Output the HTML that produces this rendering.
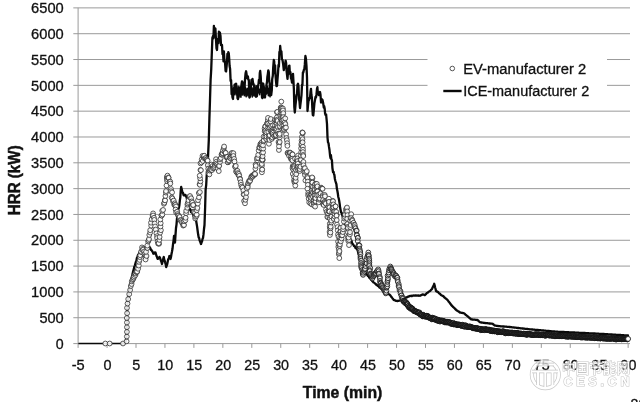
<!DOCTYPE html>
<html lang="en"><head><meta charset="utf-8"><title>HRR vs Time</title>
<style>html,body{margin:0;padding:0;background:#fff}body{width:640px;height:402px;overflow:hidden}svg{display:block;filter:blur(.4px)}text{font-family:"Liberation Sans","Noto Sans CJK SC",sans-serif;fill:#111}.t{stroke:#111;stroke-width:.3}.b{stroke:#111;stroke-width:.45}.t{font-size:14.05px}.b{font-size:15.8px;font-weight:bold}.g{stroke:#9a9a9a;stroke-width:1;fill:none}.ev circle{fill:#fff;fill-opacity:.88;stroke:#303030;stroke-width:.8}.ev .m circle{fill-opacity:.5;stroke:#222;stroke-width:.9}.ev .d circle{fill-opacity:.2;stroke:#151515;stroke-width:.95}</style></head><body>
<svg width="640" height="402" viewBox="0 0 640 402">
<rect width="640" height="402" fill="#fff"/>
<path class="g" d="M73.3 317.73H630M73.3 291.91H630M73.3 266.09H630M73.3 240.27H630M73.3 214.45H630M73.3 188.63H630M73.3 162.81H630M73.3 136.99H630M73.3 111.17H630M73.3 85.35H630M73.3 59.53H630M73.3 33.71H630M73.3 7.89H630"/>
<path class="g" d="M78.1 7.8V343.8M73.3 343.6H630M78.10 343.6v4.3M107.05 343.6v4.3M136.00 343.6v4.3M164.95 343.6v4.3M193.90 343.6v4.3M222.85 343.6v4.3M251.80 343.6v4.3M280.75 343.6v4.3M309.70 343.6v4.3M338.65 343.6v4.3M367.60 343.6v4.3M396.55 343.6v4.3M425.50 343.6v4.3M454.45 343.6v4.3M483.40 343.6v4.3M512.35 343.6v4.3M541.30 343.6v4.3M570.25 343.6v4.3M599.20 343.6v4.3M628.15 343.6v4.3"/>
<rect x="427.5" y="52" width="179.5" height="50" fill="#fff"/>
<text class="t" x="63.7" y="348.70" text-anchor="end" textLength="7.9" lengthAdjust="spacingAndGlyphs">0</text>
<text class="t" x="63.7" y="322.88" text-anchor="end" textLength="24.3" lengthAdjust="spacingAndGlyphs">500</text>
<text class="t" x="63.7" y="297.06" text-anchor="end" textLength="32.6" lengthAdjust="spacingAndGlyphs">1000</text>
<text class="t" x="63.7" y="271.24" text-anchor="end" textLength="32.6" lengthAdjust="spacingAndGlyphs">1500</text>
<text class="t" x="63.7" y="245.42" text-anchor="end" textLength="32.6" lengthAdjust="spacingAndGlyphs">2000</text>
<text class="t" x="63.7" y="219.60" text-anchor="end" textLength="32.6" lengthAdjust="spacingAndGlyphs">2500</text>
<text class="t" x="63.7" y="193.78" text-anchor="end" textLength="32.6" lengthAdjust="spacingAndGlyphs">3000</text>
<text class="t" x="63.7" y="167.96" text-anchor="end" textLength="32.6" lengthAdjust="spacingAndGlyphs">3500</text>
<text class="t" x="63.7" y="142.14" text-anchor="end" textLength="32.6" lengthAdjust="spacingAndGlyphs">4000</text>
<text class="t" x="63.7" y="116.32" text-anchor="end" textLength="32.6" lengthAdjust="spacingAndGlyphs">4500</text>
<text class="t" x="63.7" y="90.50" text-anchor="end" textLength="32.6" lengthAdjust="spacingAndGlyphs">5000</text>
<text class="t" x="63.7" y="64.68" text-anchor="end" textLength="32.6" lengthAdjust="spacingAndGlyphs">5500</text>
<text class="t" x="63.7" y="38.86" text-anchor="end" textLength="32.6" lengthAdjust="spacingAndGlyphs">6000</text>
<text class="t" x="63.7" y="13.04" text-anchor="end" textLength="32.6" lengthAdjust="spacingAndGlyphs">6500</text>
<text class="t" x="78.15" y="370" text-anchor="middle" textLength="13.0" lengthAdjust="spacingAndGlyphs">-5</text>
<text class="t" x="107.40" y="370" text-anchor="middle" textLength="8.0" lengthAdjust="spacingAndGlyphs">0</text>
<text class="t" x="136.35" y="370" text-anchor="middle" textLength="8.0" lengthAdjust="spacingAndGlyphs">5</text>
<text class="t" x="165.30" y="370" text-anchor="middle" textLength="15.9" lengthAdjust="spacingAndGlyphs">10</text>
<text class="t" x="194.25" y="370" text-anchor="middle" textLength="15.9" lengthAdjust="spacingAndGlyphs">15</text>
<text class="t" x="223.20" y="370" text-anchor="middle" textLength="15.9" lengthAdjust="spacingAndGlyphs">20</text>
<text class="t" x="252.15" y="370" text-anchor="middle" textLength="15.9" lengthAdjust="spacingAndGlyphs">25</text>
<text class="t" x="281.10" y="370" text-anchor="middle" textLength="15.9" lengthAdjust="spacingAndGlyphs">30</text>
<text class="t" x="310.05" y="370" text-anchor="middle" textLength="15.9" lengthAdjust="spacingAndGlyphs">35</text>
<text class="t" x="339.00" y="370" text-anchor="middle" textLength="15.9" lengthAdjust="spacingAndGlyphs">40</text>
<text class="t" x="367.95" y="370" text-anchor="middle" textLength="15.9" lengthAdjust="spacingAndGlyphs">45</text>
<text class="t" x="396.90" y="370" text-anchor="middle" textLength="15.9" lengthAdjust="spacingAndGlyphs">50</text>
<text class="t" x="425.85" y="370" text-anchor="middle" textLength="15.9" lengthAdjust="spacingAndGlyphs">55</text>
<text class="t" x="454.80" y="370" text-anchor="middle" textLength="15.9" lengthAdjust="spacingAndGlyphs">60</text>
<text class="t" x="483.75" y="370" text-anchor="middle" textLength="15.9" lengthAdjust="spacingAndGlyphs">65</text>
<text class="t" x="512.70" y="370" text-anchor="middle" textLength="15.9" lengthAdjust="spacingAndGlyphs">70</text>
<text class="t" x="541.65" y="370" text-anchor="middle" textLength="15.9" lengthAdjust="spacingAndGlyphs">75</text>
<text class="t" x="570.60" y="370" text-anchor="middle" textLength="15.9" lengthAdjust="spacingAndGlyphs">80</text>
<text class="t" x="599.55" y="370" text-anchor="middle" textLength="15.9" lengthAdjust="spacingAndGlyphs">85</text>
<text class="t" x="628.50" y="370" text-anchor="middle" textLength="15.9" lengthAdjust="spacingAndGlyphs">90</text>
<text class="b" x="342.6" y="398.2" text-anchor="middle" textLength="79.5" lengthAdjust="spacingAndGlyphs">Time (min)</text>
<text class="b" transform="translate(19.5 180.3) rotate(-90)" text-anchor="middle" textLength="70" lengthAdjust="spacingAndGlyphs">HRR (kW)</text>
<path d="M122.0 343.6 122.5 343.5 122.9 343.4 123.4 343.3 123.9 343.3 124.4 343.2 124.8 343.1 125.3 343.0 125.9 340.5 126.5 338.0 126.9 320.0 127.3 305.0 127.7 302.0 128.2 298.9 128.6 296.0 129.1 293.0 129.6 290.0 130.1 286.4 130.7 283.4 131.2 280.0 131.7 277.9 132.1 276.0 132.6 274.1 133.0 271.8 133.5 270.0 134.0 268.4 134.4 266.3 134.9 265.6 135.3 263.7 135.8 262.0 136.4 260.8 136.9 258.0 137.4 256.9 138.0 255.0 138.5 254.7 139.0 253.6 139.5 252.7 140.0 252.2 140.5 251.6 141.0 251.5 141.5 251.6 142.0 250.4 142.5 251.2 143.0 250.4 143.5 250.3 144.0 250.1 144.5 249.8 145.0 249.5 145.5 249.5 146.0 249.2 146.5 248.7 147.0 249.0 147.5 248.1 148.0 248.6 148.5 248.5 149.0 248.3 149.5 247.4 150.0 247.5 150.5 248.8 151.0 249.9 151.5 250.1 152.0 251.0 152.4 251.4 152.9 252.4 153.3 253.6 153.8 253.8 154.2 253.0 154.6 252.5 155.1 252.8 155.5 252.5 156.0 254.3 156.5 256.0 157.0 257.0 157.5 258.8 158.0 258.9 158.5 257.6 159.0 257.7 159.5 257.0 160.0 257.9 160.5 259.3 161.0 260.8 161.5 262.1 162.0 264.0 162.4 262.3 162.9 260.6 163.3 258.4 163.8 257.0 164.2 259.5 164.8 260.9 165.2 262.6 165.8 264.7 166.2 267.0 166.8 265.4 167.3 263.8 167.8 261.1 168.3 259.1 168.9 258.2 169.4 256.0 169.9 257.2 170.5 259.0 171.0 257.0 171.5 253.9 172.0 251.5 172.5 248.8 173.0 244.3 173.5 240.8 174.0 236.0 174.5 239.2 175.0 242.5 175.5 234.9 176.0 228.0 176.5 224.6 177.0 218.4 177.5 215.0 178.0 213.1 178.4 208.8 178.9 207.9 179.4 205.0 179.9 200.2 180.3 197.3 180.8 189.9 181.2 187.0 181.9 190.0 182.5 192.5 183.0 192.7 183.5 195.0 184.0 195.5 184.5 195.0 185.0 195.0 185.5 195.0 185.9 196.0 186.4 197.0 186.9 198.8 187.4 200.5 187.9 201.9 188.4 203.8 188.9 207.5 189.4 208.8 189.9 209.8 190.4 209.5 191.0 212.1 191.5 210.6 192.0 212.0 192.5 213.2 193.0 213.1 193.5 216.0 194.0 217.0 194.5 216.4 195.0 218.6 195.5 219.8 196.0 220.0 196.5 223.0 197.1 226.6 197.6 230.5 198.2 234.8 198.7 237.5 199.2 238.2 199.6 240.4 200.1 241.6 200.5 242.6 201.0 244.0 201.5 242.6 202.0 241.6 202.5 239.0 203.0 238.0 203.5 234.4 204.0 229.0 204.5 225.0 205.1 208.3 205.6 190.0 206.2 184.8 206.7 175.3 207.2 170.0 207.8 162.0 208.2 153.0 208.8 140.0 209.4 118.4 210.0 100.0 210.6 79.9 211.2 70.0 211.9 51.0 212.4 37.9 213.0 36.0 213.4 38.3 213.9 25.9 214.3 36.6 214.8 28.2 215.4 28.7 216.0 40.0 216.5 48.4 217.0 50.0 217.5 41.1 218.0 38.8 218.4 43.1 218.9 31.7 219.4 34.0 219.9 32.6 220.5 36.0 221.0 45.2 221.5 45.1 222.0 45.0 222.5 54.1 223.0 52.5 223.5 61.4 223.9 51.4 224.4 60.0 225.0 62.2 225.6 71.0 226.1 71.5 226.5 67.4 227.0 62.0 227.4 53.9 227.9 57.8 228.3 52.1 228.8 53.5 229.2 58.9 229.6 66.0 230.1 68.9 230.6 81.0 231.1 80.0 231.6 94.3 232.0 91.5 232.5 97.5 233.0 99.0 233.5 89.2 234.1 90.6 234.6 84.7 235.1 85.5 235.6 84.0 236.1 83.6 236.6 91.9 237.0 89.5 237.5 98.3 238.0 99.0 238.5 96.7 239.0 90.5 239.6 90.6 240.1 89.8 240.6 87.5 241.1 89.1 241.6 83.9 242.0 81.4 242.5 88.6 243.0 82.5 243.5 89.4 243.9 90.6 244.4 91.0 245.0 79.5 245.6 73.0 246.1 71.3 246.5 73.6 247.0 78.0 247.4 76.3 247.9 76.3 248.3 79.6 248.8 80.0 249.4 97.5 249.9 93.5 250.4 91.8 250.9 86.7 251.5 79.8 252.0 83.9 252.5 78.8 253.0 82.8 253.5 83.9 254.0 86.2 254.5 88.0 255.0 91.6 255.5 96.1 256.0 96.6 256.5 96.6 257.0 96.0 257.5 91.0 258.0 86.1 258.5 84.0 258.9 79.9 259.4 82.9 259.8 72.9 260.2 71.0 260.7 76.3 261.1 83.3 261.6 87.2 262.0 97.5 262.4 98.0 262.9 83.4 263.3 84.0 263.9 89.6 264.4 97.3 265.0 97.5 265.5 91.2 266.0 90.9 266.5 84.6 267.0 82.0 267.4 76.6 267.9 73.6 268.3 70.3 268.8 72.0 269.2 80.5 269.8 84.3 270.2 90.1 270.8 85.8 271.2 95.0 271.8 90.0 272.2 79.1 272.8 75.7 273.2 67.6 273.8 60.0 274.2 61.4 274.6 73.3 275.1 65.3 275.5 75.0 276.0 81.4 276.5 86.2 277.0 86.0 277.5 79.1 278.0 73.1 278.5 65.0 278.9 66.6 279.4 52.0 279.8 52.5 280.2 46.0 280.8 52.9 281.4 51.4 281.9 59.3 282.5 60.0 283.1 63.7 283.8 70.0 284.2 68.0 284.7 66.7 285.1 65.2 285.6 60.6 286.1 62.9 286.6 71.2 287.0 74.7 287.5 78.8 288.0 72.3 288.4 73.5 288.9 66.1 289.4 65.6 289.9 73.9 290.4 72.0 291.0 78.3 291.5 79.4 292.0 82.5 292.5 77.9 293.0 73.8 293.4 80.4 293.9 89.5 294.3 106.8 294.8 112.5 295.2 108.4 295.6 104.0 296.1 99.6 296.5 95.0 297.0 94.4 297.5 84.8 298.0 83.8 298.5 86.4 299.0 99.0 299.5 101.6 300.0 108.0 300.5 103.6 301.0 99.7 301.5 94.8 302.0 85.0 302.4 85.3 302.9 72.3 303.3 72.4 303.8 70.0 304.3 69.4 304.8 64.7 305.4 56.0 305.9 58.4 306.5 66.2 307.0 77.5 307.5 111.0 308.0 105.5 308.5 100.9 309.0 99.9 309.5 98.0 310.0 97.9 310.5 92.0 311.0 88.8 311.4 94.8 311.9 98.0 312.3 107.5 312.8 115.0 313.3 115.5 313.9 109.2 314.4 103.3 315.0 100.0 315.5 97.0 316.0 97.3 316.5 94.2 317.0 88.8 317.4 87.2 317.9 93.7 318.3 92.1 318.8 95.0 319.4 93.7 320.0 92.0 320.5 94.7 321.0 102.5 321.5 100.5 322.0 99.3 322.5 100.0 323.1 102.7 323.8 107.5 324.2 106.2 324.7 108.7 325.1 113.7 325.6 115.0 326.1 114.4 326.5 118.5 327.0 124.0 327.5 137.5 328.0 142.4 328.5 143.1 329.0 146.9 329.5 150.0 330.0 155.0 330.5 158.1 330.9 155.2 331.4 159.5 331.9 160.0 332.4 167.8 333.0 172.0 333.5 171.6 333.9 173.6 334.4 175.0 334.9 179.0 335.4 181.0 335.9 182.7 336.4 184.2 336.9 188.8 337.4 191.0 337.8 193.3 338.3 197.0 338.8 198.8 339.2 200.9 339.7 204.1 340.1 207.6 340.6 210.0 341.1 212.4 341.6 212.6 342.0 214.2 342.5 216.2 343.0 217.5 343.5 220.1 344.0 219.9 344.5 223.4 345.0 224.3 345.5 225.1 346.0 227.0 346.5 228.7 347.0 229.4 347.5 230.3 348.0 233.0 348.5 233.6 349.0 235.3 349.5 236.6 350.0 238.0 350.5 239.8 351.0 240.7 351.5 240.7 352.0 242.8 352.5 243.8 353.0 244.3 353.5 244.9 354.0 246.1 354.5 246.0 355.0 246.7 355.5 248.0 356.0 248.0 356.5 248.6 357.0 249.3 357.5 250.0 358.0 251.8 358.5 254.0 359.0 255.6 359.5 257.5 360.0 259.0 360.5 260.3 360.9 261.3 361.4 263.3 361.9 264.6 362.3 266.1 362.8 267.5 363.3 268.3 363.8 270.0 364.3 270.5 364.8 271.1 365.3 272.5 365.9 272.7 366.4 273.4 366.9 274.7 367.5 275.3 368.0 276.0 368.5 276.2 369.0 277.2 369.4 277.8 369.9 278.2 370.4 278.4 370.9 279.4 371.4 279.7 371.8 280.4 372.3 281.2 372.8 281.6 373.3 282.2 373.8 282.5 374.3 282.7 374.8 283.3 375.3 283.8 375.9 284.0 376.4 285.0 376.9 285.0 377.5 285.4 378.0 286.0 378.5 286.3 379.0 286.8 379.5 287.5 380.0 287.8 380.5 288.2 381.0 288.6 381.5 288.9 382.0 289.5 382.5 290.0 383.0 290.5 383.5 290.7 384.0 291.0 384.5 291.0 385.0 291.3 385.5 291.5 386.0 292.0 386.5 292.4 387.0 292.7 387.5 293.1 388.0 293.5 388.5 293.9 389.0 294.2 389.5 294.7 390.0 295.0 390.5 295.5 390.9 296.4 391.4 296.9 391.9 297.3 392.3 298.1 392.8 298.8 393.3 299.3 393.8 300.0 394.3 300.2 394.8 300.3 395.4 300.4 395.9 300.8 396.5 300.8 397.0 301.0 397.5 301.0 398.0 300.9 398.5 300.8 399.0 300.7 399.5 300.7 400.0 300.5 400.5 300.2 401.0 300.1 401.5 299.6 402.0 299.5 402.5 299.3 403.0 299.0 403.5 298.6 404.0 298.6 404.5 298.1 405.0 298.0 405.5 297.6 406.0 297.5 406.5 297.5 407.0 297.1 407.5 297.0 408.0 296.7 408.5 296.6 409.0 296.4 409.5 296.1 410.0 296.0 410.5 295.8 411.0 296.0 411.5 295.7 412.0 296.0 412.5 295.6 413.0 295.6 413.5 295.5 414.0 295.7 414.5 295.7 415.0 295.5 415.5 295.5 416.0 295.6 416.5 295.5 417.0 295.7 417.5 295.7 418.0 295.5 418.5 295.5 419.0 295.8 419.5 295.6 420.0 295.8 420.5 295.6 421.0 295.2 421.5 294.9 422.0 294.8 422.5 294.5 423.0 294.5 423.5 294.7 424.0 294.7 424.5 295.1 425.0 295.0 425.5 294.4 426.0 294.1 426.5 293.4 427.0 293.0 427.5 292.8 428.0 292.5 428.5 292.0 429.0 291.5 429.5 291.3 430.0 291.0 430.5 290.6 431.0 289.9 431.5 289.5 432.0 289.0 432.6 287.5 433.1 286.4 433.7 285.2 434.2 283.8 434.7 285.5 435.1 287.5 435.6 289.0 436.0 291.0 436.5 291.4 437.0 291.3 437.5 291.9 438.0 292.0 438.5 292.7 439.0 293.2 439.5 293.5 440.0 293.9 440.5 294.4 441.0 295.0 441.5 295.3 442.0 295.5 442.5 295.9 443.0 296.0 443.5 296.3 444.0 296.9 444.5 297.5 445.0 297.9 445.5 298.3 446.0 298.8 446.5 299.1 447.0 299.5 447.5 300.0 448.0 300.5 448.5 301.4 449.1 302.1 449.6 302.7 450.2 303.6 450.7 304.1 451.2 305.0 451.8 305.5 452.2 306.1 452.8 306.5 453.2 307.1 453.8 307.5 454.2 307.9 454.8 308.5 455.2 309.0 455.8 309.5 456.2 310.0 456.7 310.4 457.2 310.6 457.7 311.0 458.1 311.2 458.6 311.5 459.1 311.9 459.5 312.1 460.0 312.5 460.5 312.6 461.0 312.7 461.5 312.8 462.0 312.9 462.5 312.9 463.0 313.1 463.5 313.1 464.0 313.3 464.5 313.7 465.0 314.1 465.5 314.6 466.0 315.0 466.5 315.4 467.0 315.8 467.5 316.2 468.0 316.6 468.4 317.0 468.9 317.5 469.4 317.8 469.8 318.3 470.3 318.6 470.8 319.0 471.2 319.4 471.8 319.4 472.3 319.5 472.8 319.6 473.3 319.6 473.9 319.6 474.4 319.7 474.9 319.7 475.4 319.8 475.9 319.8 476.5 319.9 477.0 320.0 477.5 320.0 478.0 320.4 478.5 320.9 479.0 321.4 479.5 321.8 480.0 322.3 480.5 322.3 481.0 322.4 481.5 322.5 482.0 322.6 482.5 322.7 483.0 322.7 483.5 322.8 484.0 322.9 484.5 322.9 485.0 323.0 485.5 323.1 486.0 323.1 486.5 323.1 487.0 323.2 487.5 323.2 488.0 323.3 488.5 323.3 489.0 323.4 489.5 323.5 490.0 323.5 490.5 323.6 491.0 323.6 491.5 323.7 492.0 323.7 492.5 323.8 493.0 324.1 493.5 324.5 494.0 324.9 494.5 325.2 495.0 325.6 495.5 325.7 496.0 325.7 496.5 325.8 497.0 325.8 497.5 325.9 498.0 326.0 498.5 326.1 499.0 326.1 499.5 326.2 500.0 326.2 500.5 326.3 501.0 326.3 501.5 326.3 502.0 326.4 502.5 326.4 503.0 326.5 503.5 326.5 504.0 326.5 504.5 326.6 505.0 326.6 505.5 326.6 506.0 326.7 506.5 326.7 507.0 326.8 507.5 326.8 508.0 326.8 508.5 326.9 509.0 326.9 509.5 327.0 510.0 327.0 510.5 327.1 511.0 327.1 511.5 327.2 512.0 327.3 512.5 327.3 513.0 327.4 513.5 327.4 514.0 327.5 514.5 327.6 515.0 327.6 515.5 327.6 516.0 327.7 516.5 327.8 517.0 327.8 517.5 327.9 518.0 328.0 518.5 328.0 519.0 328.1 519.5 328.1 520.0 328.2 520.5 328.3 521.0 328.3 521.5 328.4 522.0 328.4 522.5 328.5 523.0 328.5 523.5 328.6 524.0 328.6 524.5 328.7 525.0 328.8 525.5 328.8 526.0 328.9 526.5 328.9 527.0 329.0 527.5 329.0 528.0 329.1 528.5 329.1 529.0 329.2 529.5 329.3 530.0 329.3 530.5 329.3 531.0 329.4 531.5 329.4 532.0 329.5 532.5 329.5 533.0 329.6 533.5 329.6 534.0 329.7 534.5 329.7 535.0 329.8 535.5 329.8 536.0 329.8 536.5 329.9 537.0 329.9 537.5 330.0 538.0 330.0 538.5 330.1 539.0 330.1 539.5 330.2 540.0 330.2 540.5 330.2 541.0 330.3 541.5 330.3 542.0 330.4 542.5 330.4 543.0 330.5 543.5 330.5 544.0 330.6 544.5 330.6 545.0 330.7 545.5 330.7 546.0 330.8 546.5 330.8 547.0 330.8 547.5 330.9 548.0 330.9 548.5 331.0 549.0 331.0 549.5 331.1 550.0 331.1 550.5 331.2 551.0 331.2 551.5 331.3 552.0 331.3 552.5 331.4 553.0 331.4 553.5 331.5 554.0 331.5 554.5 331.5 555.0 331.6 555.5 331.6 556.0 331.6 556.5 331.7 557.0 331.7 557.5 331.7 558.0 331.8 558.5 331.8 559.0 331.8 559.5 331.8 560.0 331.8 560.5 331.9 561.0 331.9 561.5 331.9 562.0 331.9 562.5 332.0 563.0 332.0 563.5 332.0 564.0 332.0 564.5 332.1 565.0 332.1 565.5 332.1 566.0 332.1 566.5 332.1 567.0 332.2 567.5 332.2 568.0 332.2 568.5 332.2 569.0 332.3 569.5 332.3 570.0 332.3 570.5 332.3 571.0 332.4 571.5 332.4 572.0 332.4 572.5 332.4 573.0 332.5 573.5 332.5 574.0 332.5 574.5 332.5 575.0 332.6 575.5 332.6 576.0 332.6 576.5 332.6 577.0 332.7 577.5 332.7 578.0 332.7 578.5 332.7 579.0 332.8 579.5 332.8 580.0 332.8 580.5 332.8 581.0 332.9 581.5 332.9 582.0 332.9 582.5 332.9 583.0 332.9 583.5 333.0 584.0 333.0 584.5 333.0 585.0 333.0 585.5 333.1 586.0 333.1 586.5 333.1 587.0 333.1 587.5 333.2 588.0 333.2 588.5 333.2 589.0 333.3 589.5 333.3 590.0 333.3 590.5 333.3 591.0 333.4 591.5 333.4 592.0 333.4 592.5 333.4 593.0 333.4 593.5 333.5 594.0 333.5 594.5 333.5 595.0 333.5 595.5 333.6 596.0 333.6 596.5 333.6 597.0 333.7 597.5 333.7 598.0 333.7 598.5 333.7 599.0 333.8 599.5 333.8 600.0 333.8 600.5 333.8 601.0 333.9 601.5 333.9 602.0 333.9 602.5 333.9 603.0 334.0 603.5 334.0 604.0 334.0 604.5 334.1 605.0 334.1 605.5 334.1 606.0 334.2 606.5 334.2 607.0 334.2 607.5 334.2 608.0 334.3 608.5 334.3 609.0 334.3 609.5 334.4 610.0 334.4 610.5 334.4 611.0 334.5 611.5 334.5 612.0 334.5 612.5 334.6 613.0 334.6 613.5 334.6 614.0 334.6 614.5 334.7 615.0 334.7 615.5 334.7 616.0 334.8 616.5 334.8 617.0 334.8 617.5 334.9 618.0 334.9 618.5 334.9 619.0 335.0 619.5 335.0 620.0 335.0 620.5 335.0 621.0 335.1 621.5 335.1 622.0 335.1 622.5 335.2 623.0 335.2 623.5 335.2 624.0 335.3 624.5 335.3 625.0 335.3 625.5 335.4 626.0 335.4 626.5 335.4 627.0 335.4 627.5 335.5 628.0 335.5" fill="none" stroke="#0a0a0a" stroke-width="2.3" stroke-linejoin="round" stroke-linecap="round"/>
<path d="M78.4 343.55H122.5" fill="none" stroke="#0a0a0a" stroke-width="1.6"/>
<path d="M231.8 86.2 232.8 97.4 233.8 87.8 234.9 94.8 236.1 88.0 237.0 94.8 238.1 86.4 238.9 96.9 239.8 87.1 240.9 97.1 241.6 86.4 242.4 94.9 243.3 88.4 244.3 95.6 245.3 87.3 246.1 96.8 247.2 88.4 248.0 96.0 249.0 87.0 250.2 97.0 251.3 88.3 252.3 97.0 253.0 87.8 254.1 95.8 254.9 85.3 255.9 96.7 256.8 85.9 257.6 93.4 258.6 88.9 259.7 94.6 260.8 85.3 261.9 94.5 262.6 87.5 263.4 94.2 264.1 86.8 265.1 96.6 265.8 88.3 266.5 94.0 267.6 86.4 268.4 95.6 269.2 88.2 270.0 96.8 271.1 87.1" fill="none" stroke="#0a0a0a" stroke-width="1.6" stroke-linejoin="round" stroke-linecap="round"/>
<g class="ev">
<circle cx="105.3" cy="343.5" r="2.4"/><circle cx="109.7" cy="343.5" r="2.4"/><circle cx="123.0" cy="343.5" r="2.4"/><circle cx="126.6" cy="341.3" r="2.4"/><circle cx="126.8" cy="336.6" r="2.4"/><circle cx="126.9" cy="331.9" r="2.4"/><circle cx="126.9" cy="327.2" r="2.4"/><circle cx="126.9" cy="322.5" r="2.4"/><circle cx="126.8" cy="318.0" r="2.4"/><circle cx="127.1" cy="313.2" r="2.4"/><circle cx="127.0" cy="307.9" r="2.4"/><circle cx="127.5" cy="303.6" r="2.4"/><circle cx="128.2" cy="299.1" r="2.4"/><circle cx="129.2" cy="294.2" r="2.4"/><circle cx="130.1" cy="290.0" r="2.4"/><circle cx="130.8" cy="286.0" r="2.4"/><circle cx="131.6" cy="284.0" r="2.4"/><circle cx="131.8" cy="281.4" r="2.4"/><circle cx="132.4" cy="280.0" r="2.4"/><circle cx="133.1" cy="279.2" r="2.4"/><circle cx="133.4" cy="277.6" r="2.4"/><circle cx="133.8" cy="277.7" r="2.4"/><circle cx="134.3" cy="276.2" r="2.4"/><circle cx="135.1" cy="274.2" r="2.4"/><circle cx="135.5" cy="275.0" r="2.4"/><circle cx="135.5" cy="273.3" r="2.4"/><circle cx="136.4" cy="272.2" r="2.4"/><circle cx="137.1" cy="271.8" r="2.4"/><circle cx="137.1" cy="271.5" r="2.4"/><circle cx="138.1" cy="268.8" r="2.4"/><circle cx="138.8" cy="265.6" r="2.4"/><circle cx="139.0" cy="261.9" r="2.4"/><circle cx="139.6" cy="259.9" r="2.4"/><circle cx="139.9" cy="257.1" r="2.4"/><circle cx="140.2" cy="255.2" r="2.4"/><circle cx="141.3" cy="252.1" r="2.4"/><circle cx="141.1" cy="251.7" r="2.4"/><circle cx="142.3" cy="250.0" r="2.4"/><circle cx="142.0" cy="247.4" r="2.4"/><circle cx="143.1" cy="248.6" r="2.4"/><circle cx="143.2" cy="249.7" r="2.4"/><circle cx="144.2" cy="251.5" r="2.4"/><circle cx="144.5" cy="254.2" r="2.4"/><circle cx="145.4" cy="255.9" r="2.4"/><circle cx="145.6" cy="257.5" r="2.4"/><circle cx="145.6" cy="259.5" r="2.4"/><circle cx="146.5" cy="256.0" r="2.4"/><circle cx="146.0" cy="251.9" r="2.4"/><circle cx="147.1" cy="247.7" r="2.4"/><circle cx="147.4" cy="248.0" r="2.4"/><circle cx="147.3" cy="245.6" r="2.4"/><circle cx="148.1" cy="241.6" r="2.4"/><circle cx="148.6" cy="240.4" r="2.4"/><circle cx="149.0" cy="239.0" r="2.4"/><circle cx="149.3" cy="235.0" r="2.4"/><circle cx="150.2" cy="232.6" r="2.4"/><circle cx="150.2" cy="230.2" r="2.4"/><circle cx="151.2" cy="225.7" r="2.4"/><circle cx="151.0" cy="222.7" r="2.4"/><circle cx="151.7" cy="219.3" r="2.4"/><circle cx="152.6" cy="215.8" r="2.4"/><circle cx="153.1" cy="213.4" r="2.4"/><circle cx="153.1" cy="215.5" r="2.4"/><circle cx="154.0" cy="217.8" r="2.4"/><circle cx="154.3" cy="219.9" r="2.4"/><circle cx="154.7" cy="223.5" r="2.4"/><circle cx="155.1" cy="226.5" r="2.4"/><circle cx="155.8" cy="229.5" r="2.4"/><circle cx="156.4" cy="233.3" r="2.4"/><circle cx="157.2" cy="236.1" r="2.4"/><circle cx="157.1" cy="238.0" r="2.4"/><circle cx="157.7" cy="241.6" r="2.4"/><circle cx="158.1" cy="243.6" r="2.4"/><circle cx="159.1" cy="243.8" r="2.4"/><circle cx="158.7" cy="243.2" r="2.4"/><circle cx="159.4" cy="239.9" r="2.4"/><circle cx="159.6" cy="237.0" r="2.4"/><circle cx="160.1" cy="232.7" r="2.4"/><circle cx="160.9" cy="230.2" r="2.4"/><circle cx="160.5" cy="226.5" r="2.4"/><circle cx="160.7" cy="223.2" r="2.4"/><circle cx="160.3" cy="219.5" r="2.4"/><circle cx="161.5" cy="215.5" r="2.4"/><circle cx="161.6" cy="215.6" r="2.4"/><circle cx="162.4" cy="214.5" r="2.4"/><circle cx="162.2" cy="210.8" r="2.4"/><circle cx="163.1" cy="209.9" r="2.4"/><circle cx="163.9" cy="203.8" r="2.4"/><circle cx="164.4" cy="202.7" r="2.4"/><circle cx="164.8" cy="200.1" r="2.4"/><circle cx="165.1" cy="200.4" r="2.4"/><circle cx="165.4" cy="196.0" r="2.4"/><circle cx="165.9" cy="192.6" r="2.4"/><circle cx="166.0" cy="191.1" r="2.4"/><circle cx="166.5" cy="185.5" r="2.4"/><circle cx="167.1" cy="181.1" r="2.4"/><circle cx="166.9" cy="179.0" r="2.4"/><circle cx="166.9" cy="177.0" r="2.4"/><circle cx="167.4" cy="177.4" r="2.4"/><circle cx="167.5" cy="175.6" r="2.4"/><circle cx="168.5" cy="177.5" r="2.4"/><circle cx="168.6" cy="177.9" r="2.4"/><circle cx="169.7" cy="181.8" r="2.4"/><circle cx="170.2" cy="181.6" r="2.4"/><circle cx="170.3" cy="183.5" r="2.4"/><circle cx="171.0" cy="189.0" r="2.4"/><circle cx="171.1" cy="191.2" r="2.4"/><circle cx="172.1" cy="192.4" r="2.4"/><circle cx="171.7" cy="197.5" r="2.4"/><circle cx="172.4" cy="198.5" r="2.4"/><circle cx="173.0" cy="201.2" r="2.4"/><circle cx="173.7" cy="200.6" r="2.4"/><circle cx="174.2" cy="204.4" r="2.4"/><circle cx="174.7" cy="203.3" r="2.4"/><circle cx="174.7" cy="205.2" r="2.4"/><circle cx="175.4" cy="204.9" r="2.4"/><circle cx="176.1" cy="206.5" r="2.4"/><circle cx="175.6" cy="209.6" r="2.4"/><circle cx="176.1" cy="212.4" r="2.4"/><circle cx="177.2" cy="211.7" r="2.4"/><circle cx="177.6" cy="214.0" r="2.4"/><circle cx="178.1" cy="215.3" r="2.4"/><circle cx="178.6" cy="215.8" r="2.4"/><circle cx="179.5" cy="217.4" r="2.4"/><circle cx="179.4" cy="217.8" r="2.4"/><circle cx="179.6" cy="216.9" r="2.4"/><circle cx="180.1" cy="220.2" r="2.4"/><circle cx="180.8" cy="220.2" r="2.4"/><circle cx="181.6" cy="221.3" r="2.4"/><circle cx="182.0" cy="222.7" r="2.4"/><circle cx="183.1" cy="223.6" r="2.4"/><circle cx="183.2" cy="225.6" r="2.4"/><circle cx="183.6" cy="224.6" r="2.4"/><circle cx="184.0" cy="225.1" r="2.4"/><circle cx="184.2" cy="221.2" r="2.4"/><circle cx="185.4" cy="220.3" r="2.4"/><circle cx="185.6" cy="217.8" r="2.4"/><circle cx="186.1" cy="213.2" r="2.4"/><circle cx="186.2" cy="210.9" r="2.4"/><circle cx="187.3" cy="207.8" r="2.4"/><circle cx="187.4" cy="204.7" r="2.4"/><circle cx="187.7" cy="203.4" r="2.4"/><circle cx="188.3" cy="202.0" r="2.4"/><circle cx="188.5" cy="200.2" r="2.4"/><circle cx="189.4" cy="196.6" r="2.4"/><circle cx="190.3" cy="197.6" r="2.4"/><circle cx="190.0" cy="196.0" r="2.4"/><circle cx="191.2" cy="198.3" r="2.4"/><circle cx="191.8" cy="201.4" r="2.4"/><circle cx="192.3" cy="202.7" r="2.4"/><circle cx="192.9" cy="205.1" r="2.4"/><circle cx="193.2" cy="205.0" r="2.4"/><circle cx="193.8" cy="211.6" r="2.4"/><circle cx="194.0" cy="211.9" r="2.4"/><circle cx="195.1" cy="212.6" r="2.4"/><circle cx="195.2" cy="218.5" r="2.4"/><circle cx="195.4" cy="216.7" r="2.4"/><circle cx="196.6" cy="215.9" r="2.4"/><circle cx="196.7" cy="214.6" r="2.4"/><circle cx="196.7" cy="210.3" r="2.4"/><circle cx="197.4" cy="208.0" r="2.4"/><circle cx="197.8" cy="203.6" r="2.4"/><circle cx="198.0" cy="200.2" r="2.4"/><circle cx="199.0" cy="197.4" r="2.4"/><circle cx="198.8" cy="193.0" r="2.4"/><circle cx="199.9" cy="192.1" r="2.4"/><circle cx="199.6" cy="184.2" r="2.4"/><circle cx="199.9" cy="184.8" r="2.4"/><circle cx="200.4" cy="181.4" r="2.4"/><circle cx="200.1" cy="178.3" r="2.4"/><circle cx="199.7" cy="175.7" r="2.4"/><circle cx="200.4" cy="170.0" r="2.4"/><circle cx="200.9" cy="170.2" r="2.4"/><circle cx="200.5" cy="163.4" r="2.4"/><circle cx="201.4" cy="162.4" r="2.4"/><circle cx="201.7" cy="159.3" r="2.4"/><circle cx="202.8" cy="160.9" r="2.4"/><circle cx="202.5" cy="155.9" r="2.4"/><circle cx="203.7" cy="157.9" r="2.4"/><circle cx="204.2" cy="156.3" r="2.4"/><circle cx="204.1" cy="156.3" r="2.4"/><circle cx="204.2" cy="155.7" r="2.4"/><circle cx="205.3" cy="158.4" r="2.4"/><circle cx="205.6" cy="158.1" r="2.4"/><circle cx="206.4" cy="159.3" r="2.4"/><circle cx="206.9" cy="159.6" r="2.4"/><circle cx="207.2" cy="160.9" r="2.4"/><circle cx="207.7" cy="160.7" r="2.4"/><circle cx="207.8" cy="165.2" r="2.4"/><circle cx="208.2" cy="168.7" r="2.4"/><circle cx="208.5" cy="172.0" r="2.4"/><circle cx="208.7" cy="173.3" r="2.4"/><circle cx="209.4" cy="174.4" r="2.4"/><circle cx="209.9" cy="170.7" r="2.4"/><circle cx="210.4" cy="168.4" r="2.4"/><circle cx="210.3" cy="169.3" r="2.4"/><circle cx="211.0" cy="169.8" r="2.4"/><circle cx="211.5" cy="164.6" r="2.4"/><circle cx="212.0" cy="170.1" r="2.4"/><circle cx="212.7" cy="165.9" r="2.4"/><circle cx="213.1" cy="168.4" r="2.4"/><circle cx="213.9" cy="167.7" r="2.4"/><circle cx="214.6" cy="166.8" r="2.4"/><circle cx="214.8" cy="165.0" r="2.4"/><circle cx="215.7" cy="163.9" r="2.4"/><circle cx="216.0" cy="159.2" r="2.4"/><circle cx="216.2" cy="161.8" r="2.4"/><circle cx="216.7" cy="163.6" r="2.4"/><circle cx="217.4" cy="164.7" r="2.4"/><circle cx="217.7" cy="168.4" r="2.4"/><circle cx="218.6" cy="165.9" r="2.4"/><circle cx="218.8" cy="171.1" r="2.4"/><circle cx="219.2" cy="165.9" r="2.4"/><circle cx="220.0" cy="161.9" r="2.4"/><circle cx="220.0" cy="159.4" r="2.4"/><circle cx="220.8" cy="158.0" r="2.4"/><circle cx="221.5" cy="154.6" r="2.4"/><circle cx="222.0" cy="154.6" r="2.4"/><circle cx="222.3" cy="153.0" r="2.4"/><circle cx="222.7" cy="153.2" r="2.4"/><circle cx="223.0" cy="150.3" r="2.4"/><circle cx="223.8" cy="148.2" r="2.4"/><circle cx="224.1" cy="146.5" r="2.4"/><circle cx="224.6" cy="151.8" r="2.4"/><circle cx="225.4" cy="152.9" r="2.4"/><circle cx="225.7" cy="152.9" r="2.4"/><circle cx="226.7" cy="157.5" r="2.4"/><circle cx="227.0" cy="156.8" r="2.4"/><circle cx="227.2" cy="156.9" r="2.4"/><circle cx="228.0" cy="162.3" r="2.4"/><circle cx="227.8" cy="162.3" r="2.4"/><circle cx="228.9" cy="161.2" r="2.4"/><circle cx="228.8" cy="160.2" r="2.4"/><circle cx="229.6" cy="157.7" r="2.4"/><circle cx="230.3" cy="158.1" r="2.4"/><circle cx="230.9" cy="156.8" r="2.4"/><circle cx="231.6" cy="155.5" r="2.4"/><circle cx="231.4" cy="153.4" r="2.4"/><circle cx="232.0" cy="153.0" r="2.4"/><circle cx="232.7" cy="155.1" r="2.4"/><circle cx="233.4" cy="153.2" r="2.4"/><circle cx="233.4" cy="156.0" r="2.4"/><circle cx="234.1" cy="158.9" r="2.4"/><circle cx="234.5" cy="161.5" r="2.4"/><circle cx="235.1" cy="166.4" r="2.4"/><circle cx="235.3" cy="167.1" r="2.4"/><circle cx="235.8" cy="165.9" r="2.4"/><circle cx="236.1" cy="171.2" r="2.4"/><circle cx="236.5" cy="172.2" r="2.4"/><circle cx="237.4" cy="170.8" r="2.4"/><circle cx="237.8" cy="173.1" r="2.4"/><circle cx="238.4" cy="175.1" r="2.4"/><circle cx="238.8" cy="173.9" r="2.4"/><circle cx="239.3" cy="175.8" r="2.4"/><circle cx="240.0" cy="178.7" r="2.4"/><circle cx="240.1" cy="179.3" r="2.4"/><circle cx="240.7" cy="182.3" r="2.4"/><circle cx="241.1" cy="184.8" r="2.4"/><circle cx="241.7" cy="186.7" r="2.4"/><circle cx="242.5" cy="187.7" r="2.4"/><circle cx="243.4" cy="190.5" r="2.4"/><circle cx="243.6" cy="194.3" r="2.4"/><circle cx="244.1" cy="194.7" r="2.4"/><circle cx="244.1" cy="201.0" r="2.4"/><circle cx="245.0" cy="203.3" r="2.4"/><circle cx="245.4" cy="199.8" r="2.4"/><circle cx="246.0" cy="197.1" r="2.4"/><circle cx="246.4" cy="192.9" r="2.4"/><circle cx="246.9" cy="188.5" r="2.4"/><circle cx="247.6" cy="185.2" r="2.4"/><circle cx="247.8" cy="187.0" r="2.4"/><circle cx="248.2" cy="183.1" r="2.4"/><circle cx="249.1" cy="181.9" r="2.4"/><circle cx="249.1" cy="180.9" r="2.4"/><circle cx="249.9" cy="180.3" r="2.4"/><circle cx="250.1" cy="180.8" r="2.4"/><circle cx="251.2" cy="177.9" r="2.4"/><circle cx="251.3" cy="176.8" r="2.4"/><circle cx="252.1" cy="175.9" r="2.4"/><circle cx="252.4" cy="175.6" r="2.4"/><circle cx="252.6" cy="176.6" r="2.4"/><circle cx="253.6" cy="174.9" r="2.4"/><circle cx="253.6" cy="175.3" r="2.4"/><circle cx="254.3" cy="173.9" r="2.4"/><circle cx="255.1" cy="174.4" r="2.4"/><circle cx="255.0" cy="173.9" r="2.4"/><circle cx="255.4" cy="168.6" r="2.4"/><circle cx="255.6" cy="164.6" r="2.4"/><circle cx="255.8" cy="165.9" r="2.4"/><circle cx="257.1" cy="160.3" r="2.4"/><circle cx="256.9" cy="158.3" r="2.4"/><circle cx="258.0" cy="157.9" r="2.4"/><circle cx="258.2" cy="154.9" r="2.4"/><circle cx="258.7" cy="150.5" r="2.4"/><circle cx="259.2" cy="147.5" r="2.4"/><circle cx="259.7" cy="147.8" r="2.4"/><circle cx="260.3" cy="144.9" r="2.4"/><circle cx="260.5" cy="143.8" r="2.4"/><circle cx="261.1" cy="144.4" r="2.4"/><circle cx="261.7" cy="142.3" r="2.4"/><circle cx="261.6" cy="144.7" r="2.4"/><circle cx="261.6" cy="148.5" r="2.4"/><circle cx="262.0" cy="153.2" r="2.4"/><circle cx="262.1" cy="158.8" r="2.4"/><circle cx="261.8" cy="159.0" r="2.4"/><circle cx="262.7" cy="159.6" r="2.4"/><circle cx="261.9" cy="165.8" r="2.4"/><circle cx="262.0" cy="169.5" r="2.4"/><circle cx="261.9" cy="172.3" r="2.4"/><circle cx="262.2" cy="169.6" r="2.4"/><circle cx="261.8" cy="164.0" r="2.4"/><circle cx="262.5" cy="160.4" r="2.4"/><circle cx="262.3" cy="159.5" r="2.4"/><circle cx="262.6" cy="156.3" r="2.4"/><circle cx="263.1" cy="152.5" r="2.4"/><circle cx="263.2" cy="148.6" r="2.4"/><circle cx="263.0" cy="145.4" r="2.4"/><circle cx="263.6" cy="141.3" r="2.4"/><circle cx="263.7" cy="140.1" r="2.4"/><circle cx="263.7" cy="136.6" r="2.4"/><circle cx="264.7" cy="131.3" r="2.4"/><circle cx="264.6" cy="128.7" r="2.4"/><circle cx="265.3" cy="126.3" r="2.4"/><circle cx="265.4" cy="126.4" r="2.4"/><circle cx="265.4" cy="130.9" r="2.4"/><circle cx="265.2" cy="136.6" r="2.4"/><circle cx="266.1" cy="134.6" r="2.4"/><circle cx="266.3" cy="139.0" r="2.4"/><circle cx="266.5" cy="136.6" r="2.4"/><circle cx="266.4" cy="132.3" r="2.4"/><circle cx="267.4" cy="128.4" r="2.4"/><circle cx="267.0" cy="123.7" r="2.4"/><circle cx="267.2" cy="123.4" r="2.4"/><circle cx="268.2" cy="120.3" r="2.4"/><circle cx="268.0" cy="120.3" r="2.4"/><circle cx="268.0" cy="117.9" r="2.4"/><circle cx="268.4" cy="123.3" r="2.4"/><circle cx="268.1" cy="123.6" r="2.4"/><circle cx="268.6" cy="129.4" r="2.4"/><circle cx="268.3" cy="131.9" r="2.4"/><circle cx="268.6" cy="136.3" r="2.4"/><circle cx="268.8" cy="138.7" r="2.4"/><circle cx="268.9" cy="143.8" r="2.4"/><circle cx="269.5" cy="140.0" r="2.4"/><circle cx="269.6" cy="136.0" r="2.4"/><circle cx="269.6" cy="135.2" r="2.4"/><circle cx="270.2" cy="130.0" r="2.4"/><circle cx="270.1" cy="127.7" r="2.4"/><circle cx="270.1" cy="124.1" r="2.4"/><circle cx="270.7" cy="121.5" r="2.4"/><circle cx="270.8" cy="119.0" r="2.4"/><circle cx="271.3" cy="126.2" r="2.4"/><circle cx="271.3" cy="130.6" r="2.4"/><circle cx="271.5" cy="131.3" r="2.4"/><circle cx="271.9" cy="133.0" r="2.4"/><circle cx="271.8" cy="138.9" r="2.4"/><circle cx="272.4" cy="137.5" r="2.4"/><circle cx="272.4" cy="133.4" r="2.4"/><circle cx="272.7" cy="134.0" r="2.4"/><circle cx="272.6" cy="132.0" r="2.4"/><circle cx="272.9" cy="125.4" r="2.4"/><circle cx="273.4" cy="130.4" r="2.4"/><circle cx="273.4" cy="128.4" r="2.4"/><circle cx="274.2" cy="136.1" r="2.4"/><circle cx="274.4" cy="135.9" r="2.4"/><circle cx="274.6" cy="128.6" r="2.4"/><circle cx="275.0" cy="125.5" r="2.4"/><circle cx="275.4" cy="120.2" r="2.4"/><circle cx="275.1" cy="119.7" r="2.4"/><circle cx="275.6" cy="128.4" r="2.4"/><circle cx="275.9" cy="135.9" r="2.4"/><circle cx="275.8" cy="135.2" r="2.4"/><circle cx="275.9" cy="135.7" r="2.4"/><circle cx="276.0" cy="134.9" r="2.4"/><circle cx="276.3" cy="130.6" r="2.4"/><circle cx="276.4" cy="128.8" r="2.4"/><circle cx="276.6" cy="123.7" r="2.4"/><circle cx="276.8" cy="120.4" r="2.4"/><circle cx="276.5" cy="120.0" r="2.4"/><circle cx="277.0" cy="112.3" r="2.4"/><circle cx="277.3" cy="111.9" r="2.4"/><circle cx="276.8" cy="117.5" r="2.4"/><circle cx="277.4" cy="119.5" r="2.4"/><circle cx="277.6" cy="120.9" r="2.4"/><circle cx="277.3" cy="126.1" r="2.4"/><circle cx="277.9" cy="127.2" r="2.4"/><circle cx="278.1" cy="131.2" r="2.4"/><circle cx="278.4" cy="133.7" r="2.4"/><circle cx="278.4" cy="134.1" r="2.4"/><circle cx="278.5" cy="142.0" r="2.4"/><circle cx="279.1" cy="143.6" r="2.4"/><circle cx="278.9" cy="150.0" r="2.4"/><circle cx="279.0" cy="146.4" r="2.4"/><circle cx="279.7" cy="142.0" r="2.4"/><circle cx="279.7" cy="137.4" r="2.4"/><circle cx="279.6" cy="135.2" r="2.4"/><circle cx="279.7" cy="133.9" r="2.4"/><circle cx="280.4" cy="127.6" r="2.4"/><circle cx="279.8" cy="126.3" r="2.4"/><circle cx="279.9" cy="123.0" r="2.4"/><circle cx="280.5" cy="118.3" r="2.4"/><circle cx="280.6" cy="112.7" r="2.4"/><circle cx="280.9" cy="109.4" r="2.4"/><circle cx="280.7" cy="107.9" r="2.4"/><circle cx="281.0" cy="107.3" r="2.4"/><circle cx="281.3" cy="101.6" r="2.4"/><circle cx="281.5" cy="108.0" r="2.4"/><circle cx="281.5" cy="108.9" r="2.4"/><circle cx="281.9" cy="112.0" r="2.4"/><circle cx="281.3" cy="119.4" r="2.4"/><circle cx="282.3" cy="114.6" r="2.4"/><circle cx="281.9" cy="122.2" r="2.4"/><circle cx="282.2" cy="125.9" r="2.4"/><circle cx="282.1" cy="120.1" r="2.4"/><circle cx="282.4" cy="120.5" r="2.4"/><circle cx="282.4" cy="113.5" r="2.4"/><circle cx="282.9" cy="108.5" r="2.4"/><circle cx="283.0" cy="110.4" r="2.4"/><circle cx="283.3" cy="113.2" r="2.4"/><circle cx="283.2" cy="117.1" r="2.4"/><circle cx="283.5" cy="119.9" r="2.4"/><circle cx="283.7" cy="125.7" r="2.4"/><circle cx="284.2" cy="130.6" r="2.4"/><circle cx="283.9" cy="128.3" r="2.4"/><circle cx="283.8" cy="129.1" r="2.4"/><circle cx="284.6" cy="122.4" r="2.4"/><circle cx="285.2" cy="118.4" r="2.4"/><circle cx="285.4" cy="124.1" r="2.4"/><circle cx="285.0" cy="127.9" r="2.4"/><circle cx="286.0" cy="127.5" r="2.4"/><circle cx="286.1" cy="134.3" r="2.4"/><circle cx="286.4" cy="138.0" r="2.4"/><circle cx="286.9" cy="140.2" r="2.4"/><circle cx="287.2" cy="143.2" r="2.4"/><circle cx="287.4" cy="145.8" r="2.4"/><circle cx="287.5" cy="153.0" r="2.4"/><circle cx="288.2" cy="152.5" r="2.4"/><circle cx="288.3" cy="153.9" r="2.4"/><circle cx="289.1" cy="155.9" r="2.4"/><circle cx="289.7" cy="152.9" r="2.4"/><circle cx="290.0" cy="152.5" r="2.4"/><circle cx="290.3" cy="152.9" r="2.4"/><circle cx="290.9" cy="157.1" r="2.4"/><circle cx="291.0" cy="159.0" r="2.4"/><circle cx="291.5" cy="158.8" r="2.4"/><circle cx="292.1" cy="154.0" r="2.4"/><circle cx="292.6" cy="154.5" r="2.4"/><circle cx="292.2" cy="158.7" r="2.4"/><circle cx="292.4" cy="160.4" r="2.4"/><circle cx="292.7" cy="166.1" r="2.4"/><circle cx="292.5" cy="168.1" r="2.4"/><circle cx="292.8" cy="173.9" r="2.4"/><circle cx="293.3" cy="169.7" r="2.4"/><circle cx="293.8" cy="166.0" r="2.4"/><circle cx="295.0" cy="158.7" r="2.4"/><circle cx="294.3" cy="166.4" r="2.4"/><circle cx="294.4" cy="168.1" r="2.4"/><circle cx="294.9" cy="172.4" r="2.4"/><circle cx="294.0" cy="176.8" r="2.4"/><circle cx="294.0" cy="180.4" r="2.4"/><circle cx="294.5" cy="182.4" r="2.4"/><circle cx="295.3" cy="185.6" r="2.4"/><circle cx="294.9" cy="181.1" r="2.4"/><circle cx="295.8" cy="180.9" r="2.4"/><circle cx="295.6" cy="177.8" r="2.4"/><circle cx="296.2" cy="174.2" r="2.4"/><circle cx="295.8" cy="169.7" r="2.4"/><circle cx="296.8" cy="167.8" r="2.4"/><circle cx="297.1" cy="160.0" r="2.4"/><circle cx="297.2" cy="160.9" r="2.4"/><circle cx="298.1" cy="155.5" r="2.4"/><circle cx="297.4" cy="158.4" r="2.4"/><circle cx="297.7" cy="161.0" r="2.4"/><circle cx="297.8" cy="163.8" r="2.4"/><circle cx="297.7" cy="166.9" r="2.4"/><circle cx="298.2" cy="167.1" r="2.4"/><circle cx="298.2" cy="170.1" r="2.4"/><circle cx="299.2" cy="168.3" r="2.4"/><circle cx="299.7" cy="171.0" r="2.4"/><circle cx="299.8" cy="169.1" r="2.4"/><circle cx="300.4" cy="166.7" r="2.4"/><circle cx="300.4" cy="159.6" r="2.4"/><circle cx="301.0" cy="159.8" r="2.4"/><circle cx="300.9" cy="155.6" r="2.4"/><circle cx="301.2" cy="152.1" r="2.4"/><circle cx="301.1" cy="148.3" r="2.4"/><circle cx="301.4" cy="145.2" r="2.4"/><circle cx="301.4" cy="143.9" r="2.4"/><circle cx="301.6" cy="140.7" r="2.4"/><circle cx="301.9" cy="136.9" r="2.4"/><circle cx="302.7" cy="133.3" r="2.4"/><circle cx="302.3" cy="132.4" r="2.4"/><circle cx="302.6" cy="132.7" r="2.4"/><circle cx="302.5" cy="139.2" r="2.4"/><circle cx="302.6" cy="142.3" r="2.4"/><circle cx="302.9" cy="146.7" r="2.4"/><circle cx="303.0" cy="149.7" r="2.4"/><circle cx="302.9" cy="152.1" r="2.4"/><circle cx="303.1" cy="154.9" r="2.4"/><circle cx="303.3" cy="156.1" r="2.4"/><circle cx="303.4" cy="161.9" r="2.4"/><circle cx="303.5" cy="165.2" r="2.4"/><circle cx="304.2" cy="168.3" r="2.4"/><circle cx="304.9" cy="168.2" r="2.4"/><circle cx="304.7" cy="172.7" r="2.4"/><circle cx="305.4" cy="180.5" r="2.4"/><circle cx="305.0" cy="175.1" r="2.4"/><circle cx="306.3" cy="172.5" r="2.4"/><circle cx="306.8" cy="171.2" r="2.4"/><circle cx="307.3" cy="176.9" r="2.4"/><circle cx="307.5" cy="178.1" r="2.4"/><circle cx="307.8" cy="181.6" r="2.4"/><circle cx="307.9" cy="184.8" r="2.4"/><circle cx="307.4" cy="188.7" r="2.4"/><circle cx="308.2" cy="193.0" r="2.4"/><circle cx="308.1" cy="195.3" r="2.4"/><circle cx="308.7" cy="198.8" r="2.4"/><circle cx="309.2" cy="202.3" r="2.4"/><circle cx="309.1" cy="194.5" r="2.4"/><circle cx="310.1" cy="195.4" r="2.4"/><circle cx="310.4" cy="195.7" r="2.4"/><circle cx="310.3" cy="197.2" r="2.4"/><circle cx="310.9" cy="200.3" r="2.4"/><circle cx="310.5" cy="203.5" r="2.4"/><circle cx="311.8" cy="204.3" r="2.4"/><circle cx="311.2" cy="197.9" r="2.4"/><circle cx="311.6" cy="194.6" r="2.4"/><circle cx="312.0" cy="192.1" r="2.4"/><circle cx="311.6" cy="190.5" r="2.4"/><circle cx="311.9" cy="185.9" r="2.4"/><circle cx="312.3" cy="181.9" r="2.4"/><circle cx="312.5" cy="178.1" r="2.4"/><circle cx="312.1" cy="177.4" r="2.4"/><circle cx="312.4" cy="182.6" r="2.4"/><circle cx="312.9" cy="186.9" r="2.4"/><circle cx="313.2" cy="190.3" r="2.4"/><circle cx="313.0" cy="192.6" r="2.4"/><circle cx="312.8" cy="196.6" r="2.4"/><circle cx="313.6" cy="200.7" r="2.4"/><circle cx="313.6" cy="203.2" r="2.4"/><circle cx="314.0" cy="205.4" r="2.4"/><circle cx="314.1" cy="202.7" r="2.4"/><circle cx="314.2" cy="200.3" r="2.4"/><circle cx="314.2" cy="195.0" r="2.4"/><circle cx="314.3" cy="191.2" r="2.4"/><circle cx="315.1" cy="191.0" r="2.4"/><circle cx="314.8" cy="186.3" r="2.4"/><circle cx="315.3" cy="183.8" r="2.4"/><circle cx="315.3" cy="184.4" r="2.4"/><circle cx="314.8" cy="189.9" r="2.4"/><circle cx="315.4" cy="192.8" r="2.4"/><circle cx="314.8" cy="195.5" r="2.4"/><circle cx="314.8" cy="198.2" r="2.4"/><circle cx="315.4" cy="201.8" r="2.4"/><circle cx="315.1" cy="206.6" r="2.4"/><circle cx="315.7" cy="201.3" r="2.4"/><circle cx="315.5" cy="198.1" r="2.4"/><circle cx="316.4" cy="195.1" r="2.4"/><circle cx="316.6" cy="191.1" r="2.4"/><circle cx="316.7" cy="187.5" r="2.4"/><circle cx="316.9" cy="186.1" r="2.4"/><circle cx="316.8" cy="183.8" r="2.4"/><circle cx="317.4" cy="186.4" r="2.4"/><circle cx="317.6" cy="191.4" r="2.4"/><circle cx="318.4" cy="194.5" r="2.4"/><circle cx="318.3" cy="195.2" r="2.4"/><circle cx="318.9" cy="200.4" r="2.4"/><circle cx="318.7" cy="202.3" r="2.4"/><circle cx="319.2" cy="199.6" r="2.4"/><circle cx="319.7" cy="198.4" r="2.4"/><circle cx="320.2" cy="195.1" r="2.4"/><circle cx="320.5" cy="193.4" r="2.4"/><circle cx="321.1" cy="187.6" r="2.4"/><circle cx="321.7" cy="188.5" r="2.4"/><circle cx="322.0" cy="188.5" r="2.4"/><circle cx="322.6" cy="188.8" r="2.4"/><circle cx="322.7" cy="195.2" r="2.4"/><circle cx="323.1" cy="196.6" r="2.4"/><circle cx="323.1" cy="200.0" r="2.4"/><circle cx="323.2" cy="204.2" r="2.4"/><circle cx="323.4" cy="204.1" r="2.4"/><circle cx="323.7" cy="205.0" r="2.4"/><circle cx="324.3" cy="202.1" r="2.4"/><circle cx="324.6" cy="202.0" r="2.4"/><circle cx="324.7" cy="194.9" r="2.4"/><circle cx="325.0" cy="196.3" r="2.4"/><circle cx="325.2" cy="202.8" r="2.4"/><circle cx="325.8" cy="203.6" r="2.4"/><circle cx="326.0" cy="209.6" r="2.4"/><circle cx="326.6" cy="211.8" r="2.4"/><circle cx="327.3" cy="216.9" r="2.4"/><circle cx="328.1" cy="217.3" r="2.4"/><circle cx="327.9" cy="213.2" r="2.4"/><circle cx="328.6" cy="211.2" r="2.4"/><circle cx="328.4" cy="206.9" r="2.4"/><circle cx="328.8" cy="203.2" r="2.4"/><circle cx="328.9" cy="198.7" r="2.4"/><circle cx="329.0" cy="201.8" r="2.4"/><circle cx="329.5" cy="207.4" r="2.4"/><circle cx="329.0" cy="211.6" r="2.4"/><circle cx="329.6" cy="211.4" r="2.4"/><circle cx="329.9" cy="217.5" r="2.4"/><circle cx="330.1" cy="218.8" r="2.4"/><circle cx="329.8" cy="223.7" r="2.4"/><circle cx="329.8" cy="226.7" r="2.4"/><circle cx="330.1" cy="228.5" r="2.4"/><circle cx="329.6" cy="231.9" r="2.4"/><circle cx="329.9" cy="235.0" r="2.4"/><circle cx="330.4" cy="232.5" r="2.4"/><circle cx="330.6" cy="228.3" r="2.4"/><circle cx="330.7" cy="226.6" r="2.4"/><circle cx="331.3" cy="222.5" r="2.4"/><circle cx="331.3" cy="220.6" r="2.4"/><circle cx="331.5" cy="216.5" r="2.4"/><circle cx="332.2" cy="212.2" r="2.4"/><circle cx="332.4" cy="208.0" r="2.4"/><circle cx="332.7" cy="206.1" r="2.4"/><circle cx="332.3" cy="203.4" r="2.4"/><circle cx="332.7" cy="200.8" r="2.4"/><circle cx="333.0" cy="201.3" r="2.4"/><circle cx="333.4" cy="204.4" r="2.4"/><circle cx="333.5" cy="207.4" r="2.4"/><circle cx="333.8" cy="211.3" r="2.4"/><circle cx="333.8" cy="211.8" r="2.4"/><circle cx="334.2" cy="218.0" r="2.4"/><circle cx="333.7" cy="218.9" r="2.4"/><circle cx="334.6" cy="216.6" r="2.4"/><circle cx="334.5" cy="213.8" r="2.4"/><circle cx="335.1" cy="211.5" r="2.4"/><circle cx="335.4" cy="206.4" r="2.4"/><circle cx="335.6" cy="206.4" r="2.4"/><circle cx="336.3" cy="211.9" r="2.4"/><circle cx="336.7" cy="215.1" r="2.4"/><circle cx="336.5" cy="215.8" r="2.4"/><circle cx="336.7" cy="220.1" r="2.4"/><circle cx="337.0" cy="224.6" r="2.4"/><circle cx="337.5" cy="227.1" r="2.4"/><circle cx="337.8" cy="230.5" r="2.4"/><circle cx="338.0" cy="234.6" r="2.4"/><circle cx="338.5" cy="236.7" r="2.4"/><circle cx="338.1" cy="241.7" r="2.4"/><circle cx="338.6" cy="244.7" r="2.4"/><circle cx="338.3" cy="246.9" r="2.4"/><circle cx="338.8" cy="249.3" r="2.4"/><circle cx="338.8" cy="254.2" r="2.4"/><circle cx="339.3" cy="258.1" r="2.4"/><circle cx="339.0" cy="252.7" r="2.4"/><circle cx="339.5" cy="251.1" r="2.4"/><circle cx="339.6" cy="246.1" r="2.4"/><circle cx="339.9" cy="244.4" r="2.4"/><circle cx="340.0" cy="240.1" r="2.4"/><circle cx="340.1" cy="237.9" r="2.4"/><circle cx="340.1" cy="232.3" r="2.4"/><circle cx="340.4" cy="231.1" r="2.4"/><circle cx="340.5" cy="228.1" r="2.4"/><circle cx="340.5" cy="227.9" r="2.4"/><circle cx="340.5" cy="231.8" r="2.4"/><circle cx="341.0" cy="234.4" r="2.4"/><circle cx="341.1" cy="239.2" r="2.4"/><circle cx="340.8" cy="241.4" r="2.4"/><circle cx="341.6" cy="238.4" r="2.4"/><circle cx="341.6" cy="235.4" r="2.4"/><circle cx="342.2" cy="235.2" r="2.4"/><circle cx="342.8" cy="232.1" r="2.4"/><circle cx="343.1" cy="229.3" r="2.4"/><circle cx="343.2" cy="226.9" r="2.4"/><circle cx="343.9" cy="221.6" r="2.4"/><circle cx="344.2" cy="218.5" r="2.4"/><circle cx="345.1" cy="217.2" r="2.4"/><circle cx="345.0" cy="214.7" r="2.4"/><circle cx="346.1" cy="211.3" r="2.4"/><circle cx="346.0" cy="209.2" r="2.4"/><circle cx="346.7" cy="208.5" r="2.4"/><circle cx="347.0" cy="207.5" r="2.4"/><circle cx="347.2" cy="211.4" r="2.4"/><circle cx="347.5" cy="215.1" r="2.4"/><circle cx="347.2" cy="218.8" r="2.4"/><circle cx="347.3" cy="224.1" r="2.4"/><circle cx="347.8" cy="226.8" r="2.4"/><circle cx="347.9" cy="228.1" r="2.4"/><circle cx="347.9" cy="232.3" r="2.4"/><circle cx="347.9" cy="236.5" r="2.4"/><circle cx="348.2" cy="238.8" r="2.4"/><circle cx="348.3" cy="241.0" r="2.4"/><circle cx="349.0" cy="245.1" r="2.4"/><circle cx="349.1" cy="240.0" r="2.4"/><circle cx="348.6" cy="237.6" r="2.4"/><circle cx="349.9" cy="234.4" r="2.4"/><circle cx="350.0" cy="232.2" r="2.4"/><circle cx="350.3" cy="227.2" r="2.4"/><circle cx="350.6" cy="225.0" r="2.4"/><circle cx="350.2" cy="220.6" r="2.4"/><circle cx="350.4" cy="217.6" r="2.4"/><circle cx="351.2" cy="214.2" r="2.4"/><circle cx="351.1" cy="218.1" r="2.4"/><circle cx="352.2" cy="219.7" r="2.4"/><circle cx="352.3" cy="220.8" r="2.4"/><circle cx="353.6" cy="223.2" r="2.4"/><circle cx="353.5" cy="222.8" r="2.4"/><circle cx="354.0" cy="224.8" r="2.4"/><circle cx="354.8" cy="225.2" r="2.4"/><circle cx="354.7" cy="227.1" r="2.4"/>
<g class="m">
<circle cx="355.5" cy="228.3" r="2.4"/><circle cx="356.1" cy="230.6" r="2.4"/><circle cx="356.7" cy="230.7" r="2.4"/><circle cx="356.8" cy="234.6" r="2.4"/><circle cx="356.9" cy="235.4" r="2.4"/><circle cx="357.7" cy="238.0" r="2.4"/><circle cx="357.9" cy="237.8" r="2.4"/><circle cx="357.8" cy="241.1" r="2.4"/><circle cx="358.6" cy="244.9" r="2.4"/><circle cx="358.7" cy="245.7" r="2.4"/><circle cx="359.5" cy="245.5" r="2.4"/><circle cx="359.5" cy="248.8" r="2.4"/><circle cx="359.9" cy="250.5" r="2.4"/><circle cx="360.3" cy="252.0" r="2.4"/><circle cx="360.5" cy="254.2" r="2.4"/><circle cx="360.4" cy="257.0" r="2.4"/><circle cx="360.5" cy="258.8" r="2.4"/><circle cx="361.2" cy="260.6" r="2.4"/><circle cx="361.0" cy="263.1" r="2.4"/><circle cx="361.2" cy="265.3" r="2.4"/><circle cx="361.2" cy="266.9" r="2.4"/><circle cx="361.6" cy="268.1" r="2.4"/><circle cx="362.4" cy="270.0" r="2.4"/><circle cx="362.6" cy="272.9" r="2.4"/><circle cx="362.8" cy="274.0" r="2.4"/><circle cx="363.1" cy="274.9" r="2.4"/><circle cx="363.3" cy="272.7" r="2.4"/><circle cx="364.4" cy="271.6" r="2.4"/><circle cx="364.1" cy="269.9" r="2.4"/><circle cx="364.7" cy="269.2" r="2.4"/><circle cx="365.1" cy="268.7" r="2.4"/><circle cx="365.5" cy="266.1" r="2.4"/><circle cx="366.4" cy="263.3" r="2.4"/><circle cx="366.7" cy="263.3" r="2.4"/><circle cx="366.5" cy="259.5" r="2.4"/><circle cx="367.1" cy="257.1" r="2.4"/><circle cx="367.9" cy="255.2" r="2.4"/><circle cx="368.4" cy="255.7" r="2.4"/><circle cx="368.3" cy="252.5" r="2.4"/><circle cx="368.4" cy="254.8" r="2.4"/><circle cx="368.9" cy="256.0" r="2.4"/><circle cx="369.2" cy="258.6" r="2.4"/><circle cx="369.3" cy="260.2" r="2.4"/><circle cx="369.4" cy="262.3" r="2.4"/><circle cx="369.3" cy="264.2" r="2.4"/><circle cx="369.2" cy="265.9" r="2.4"/><circle cx="370.3" cy="268.2" r="2.4"/><circle cx="369.6" cy="270.3" r="2.4"/><circle cx="369.7" cy="271.2" r="2.4"/><circle cx="370.2" cy="273.7" r="2.4"/><circle cx="370.9" cy="274.1" r="2.4"/><circle cx="371.0" cy="274.5" r="2.4"/><circle cx="372.1" cy="276.1" r="2.4"/><circle cx="371.9" cy="275.7" r="2.4"/><circle cx="372.3" cy="278.6" r="2.4"/><circle cx="372.8" cy="276.7" r="2.4"/><circle cx="373.6" cy="276.0" r="2.4"/><circle cx="373.9" cy="274.7" r="2.4"/><circle cx="374.2" cy="275.7" r="2.4"/><circle cx="374.7" cy="274.6" r="2.4"/><circle cx="374.9" cy="273.5" r="2.4"/><circle cx="375.8" cy="273.8" r="2.4"/><circle cx="375.9" cy="273.0" r="2.4"/><circle cx="376.8" cy="271.8" r="2.4"/><circle cx="377.2" cy="271.2" r="2.4"/><circle cx="377.4" cy="271.2" r="2.4"/><circle cx="377.3" cy="270.7" r="2.4"/><circle cx="378.2" cy="269.4" r="2.4"/><circle cx="378.7" cy="271.2" r="2.4"/><circle cx="378.9" cy="273.5" r="2.4"/><circle cx="378.9" cy="274.0" r="2.4"/><circle cx="379.8" cy="277.0" r="2.4"/><circle cx="379.9" cy="278.3" r="2.4"/><circle cx="380.0" cy="280.9" r="2.4"/><circle cx="380.2" cy="282.6" r="2.4"/><circle cx="380.8" cy="283.1" r="2.4"/><circle cx="380.7" cy="283.5" r="2.4"/><circle cx="381.7" cy="284.7" r="2.4"/><circle cx="381.6" cy="285.5" r="2.4"/><circle cx="382.2" cy="286.1" r="2.4"/><circle cx="382.7" cy="287.3" r="2.4"/><circle cx="383.1" cy="288.0" r="2.4"/><circle cx="383.7" cy="289.0" r="2.4"/><circle cx="384.1" cy="290.2" r="2.4"/><circle cx="384.6" cy="290.1" r="2.4"/><circle cx="384.9" cy="291.5" r="2.4"/><circle cx="385.6" cy="292.1" r="2.4"/><circle cx="385.8" cy="293.4" r="2.4"/><circle cx="386.1" cy="292.6" r="2.4"/><circle cx="386.4" cy="290.6" r="2.4"/><circle cx="386.4" cy="287.4" r="2.4"/><circle cx="387.3" cy="286.5" r="2.4"/><circle cx="387.3" cy="284.3" r="2.4"/><circle cx="387.4" cy="281.7" r="2.4"/><circle cx="387.7" cy="280.0" r="2.4"/><circle cx="388.0" cy="278.3" r="2.4"/><circle cx="387.6" cy="275.6" r="2.4"/><circle cx="388.7" cy="274.3" r="2.4"/><circle cx="388.7" cy="272.5" r="2.4"/><circle cx="389.0" cy="270.1" r="2.4"/><circle cx="389.5" cy="268.5" r="2.4"/><circle cx="390.3" cy="266.5" r="2.4"/><circle cx="390.8" cy="268.0" r="2.4"/><circle cx="391.2" cy="268.7" r="2.4"/><circle cx="391.3" cy="269.3" r="2.4"/><circle cx="391.7" cy="270.0" r="2.4"/><circle cx="392.1" cy="271.2" r="2.4"/><circle cx="393.0" cy="272.9" r="2.4"/><circle cx="392.9" cy="272.0" r="2.4"/><circle cx="393.5" cy="273.3" r="2.4"/><circle cx="393.7" cy="273.3" r="2.4"/><circle cx="393.8" cy="274.7" r="2.4"/><circle cx="394.8" cy="276.3" r="2.4"/><circle cx="395.3" cy="275.2" r="2.4"/><circle cx="396.1" cy="275.8" r="2.4"/><circle cx="396.2" cy="276.0" r="2.4"/><circle cx="396.5" cy="277.4" r="2.4"/><circle cx="397.3" cy="278.0" r="2.4"/><circle cx="397.4" cy="277.7" r="2.4"/><circle cx="397.6" cy="280.1" r="2.4"/><circle cx="397.8" cy="281.9" r="2.4"/><circle cx="398.8" cy="284.3" r="2.4"/><circle cx="398.6" cy="286.1" r="2.4"/><circle cx="399.1" cy="287.2" r="2.4"/><circle cx="399.5" cy="290.0" r="2.4"/><circle cx="400.5" cy="291.2" r="2.4"/><circle cx="400.5" cy="293.2" r="2.4"/><circle cx="401.6" cy="295.5" r="2.4"/><circle cx="401.4" cy="295.5" r="2.4"/><circle cx="401.8" cy="297.6" r="2.4"/><circle cx="402.8" cy="298.0" r="2.4"/><circle cx="402.7" cy="298.9" r="2.4"/><circle cx="403.0" cy="300.7" r="2.4"/>
</g>
<g class="d">
<circle cx="403.6" cy="301.7" r="2.4"/><circle cx="403.9" cy="300.7" r="2.4"/><circle cx="404.6" cy="301.4" r="2.4"/><circle cx="405.1" cy="302.3" r="2.4"/><circle cx="405.2" cy="303.2" r="2.4"/><circle cx="405.9" cy="302.0" r="2.4"/><circle cx="406.5" cy="304.0" r="2.4"/><circle cx="406.7" cy="303.0" r="2.4"/><circle cx="406.9" cy="304.3" r="2.4"/><circle cx="407.5" cy="304.1" r="2.4"/><circle cx="407.6" cy="304.2" r="2.4"/><circle cx="408.1" cy="306.1" r="2.4"/><circle cx="408.3" cy="305.9" r="2.4"/><circle cx="409.0" cy="307.6" r="2.4"/><circle cx="409.5" cy="306.8" r="2.4"/><circle cx="409.6" cy="306.7" r="2.4"/><circle cx="410.1" cy="307.6" r="2.4"/><circle cx="410.6" cy="308.8" r="2.4"/><circle cx="411.0" cy="307.5" r="2.4"/><circle cx="411.6" cy="308.9" r="2.4"/><circle cx="411.8" cy="308.3" r="2.4"/><circle cx="411.9" cy="308.4" r="2.4"/><circle cx="412.7" cy="308.8" r="2.4"/><circle cx="412.8" cy="309.6" r="2.4"/><circle cx="413.4" cy="310.2" r="2.4"/><circle cx="413.9" cy="310.9" r="2.4"/><circle cx="414.1" cy="311.0" r="2.4"/><circle cx="414.4" cy="311.1" r="2.4"/><circle cx="415.0" cy="311.1" r="2.4"/><circle cx="415.5" cy="311.2" r="2.4"/><circle cx="415.9" cy="311.9" r="2.4"/><circle cx="416.2" cy="311.4" r="2.4"/><circle cx="416.5" cy="311.6" r="2.4"/><circle cx="416.9" cy="312.2" r="2.4"/><circle cx="417.8" cy="312.8" r="2.4"/><circle cx="417.9" cy="312.2" r="2.4"/><circle cx="418.1" cy="312.7" r="2.4"/><circle cx="418.6" cy="312.6" r="2.4"/><circle cx="419.2" cy="313.1" r="2.4"/><circle cx="419.5" cy="312.4" r="2.4"/><circle cx="419.8" cy="314.0" r="2.4"/><circle cx="420.2" cy="314.4" r="2.4"/><circle cx="420.6" cy="314.4" r="2.4"/><circle cx="420.7" cy="314.2" r="2.4"/><circle cx="421.1" cy="315.2" r="2.4"/><circle cx="421.8" cy="315.0" r="2.4"/><circle cx="422.1" cy="315.0" r="2.4"/><circle cx="422.8" cy="316.4" r="2.4"/><circle cx="423.0" cy="316.3" r="2.4"/><circle cx="423.2" cy="314.7" r="2.4"/><circle cx="423.7" cy="315.4" r="2.4"/><circle cx="424.1" cy="316.1" r="2.4"/><circle cx="424.9" cy="315.8" r="2.4"/><circle cx="425.0" cy="316.4" r="2.4"/><circle cx="425.4" cy="316.8" r="2.4"/><circle cx="426.0" cy="315.8" r="2.4"/><circle cx="426.2" cy="316.5" r="2.4"/><circle cx="426.6" cy="315.9" r="2.4"/><circle cx="426.8" cy="315.7" r="2.4"/><circle cx="427.4" cy="317.1" r="2.4"/><circle cx="427.8" cy="315.9" r="2.4"/><circle cx="428.1" cy="316.8" r="2.4"/><circle cx="428.4" cy="316.9" r="2.4"/><circle cx="429.0" cy="317.7" r="2.4"/><circle cx="429.4" cy="317.8" r="2.4"/><circle cx="429.7" cy="317.7" r="2.4"/><circle cx="430.2" cy="318.1" r="2.4"/><circle cx="430.6" cy="317.8" r="2.4"/><circle cx="431.0" cy="317.7" r="2.4"/><circle cx="431.6" cy="318.4" r="2.4"/><circle cx="431.8" cy="319.4" r="2.4"/><circle cx="432.3" cy="317.6" r="2.4"/><circle cx="432.6" cy="318.9" r="2.4"/><circle cx="433.2" cy="319.3" r="2.4"/><circle cx="433.4" cy="318.1" r="2.4"/><circle cx="433.7" cy="319.0" r="2.4"/><circle cx="434.2" cy="318.4" r="2.4"/><circle cx="434.5" cy="318.8" r="2.4"/><circle cx="435.0" cy="319.3" r="2.4"/><circle cx="435.3" cy="318.6" r="2.4"/><circle cx="435.9" cy="320.2" r="2.4"/><circle cx="436.2" cy="320.0" r="2.4"/><circle cx="436.6" cy="319.9" r="2.4"/><circle cx="437.0" cy="319.3" r="2.4"/><circle cx="437.4" cy="320.3" r="2.4"/><circle cx="437.7" cy="320.9" r="2.4"/><circle cx="438.4" cy="320.9" r="2.4"/><circle cx="438.8" cy="320.5" r="2.4"/><circle cx="438.9" cy="319.9" r="2.4"/><circle cx="439.3" cy="320.4" r="2.4"/><circle cx="439.8" cy="320.7" r="2.4"/><circle cx="440.0" cy="321.6" r="2.4"/><circle cx="440.8" cy="320.6" r="2.4"/><circle cx="441.0" cy="321.0" r="2.4"/><circle cx="441.4" cy="320.7" r="2.4"/><circle cx="441.8" cy="320.6" r="2.4"/><circle cx="442.2" cy="321.0" r="2.4"/><circle cx="442.6" cy="320.7" r="2.4"/><circle cx="443.0" cy="321.3" r="2.4"/><circle cx="443.4" cy="320.9" r="2.4"/><circle cx="443.8" cy="321.9" r="2.4"/><circle cx="444.2" cy="321.4" r="2.4"/><circle cx="444.5" cy="321.6" r="2.4"/><circle cx="445.0" cy="322.5" r="2.4"/><circle cx="445.4" cy="321.6" r="2.4"/><circle cx="445.8" cy="322.1" r="2.4"/><circle cx="446.1" cy="321.7" r="2.4"/><circle cx="446.6" cy="322.5" r="2.4"/><circle cx="446.9" cy="321.8" r="2.4"/><circle cx="447.4" cy="321.8" r="2.4"/><circle cx="447.8" cy="322.6" r="2.4"/><circle cx="448.2" cy="322.0" r="2.4"/><circle cx="448.6" cy="322.4" r="2.4"/><circle cx="449.0" cy="322.3" r="2.4"/><circle cx="449.5" cy="322.0" r="2.4"/><circle cx="449.8" cy="322.9" r="2.4"/><circle cx="450.3" cy="322.7" r="2.4"/><circle cx="450.6" cy="322.8" r="2.4"/><circle cx="451.0" cy="323.9" r="2.4"/><circle cx="451.3" cy="323.4" r="2.4"/><circle cx="451.7" cy="323.8" r="2.4"/><circle cx="452.3" cy="323.4" r="2.4"/><circle cx="452.5" cy="323.7" r="2.4"/><circle cx="453.1" cy="324.1" r="2.4"/><circle cx="453.4" cy="322.8" r="2.4"/><circle cx="453.7" cy="324.4" r="2.4"/><circle cx="454.1" cy="324.4" r="2.4"/><circle cx="454.7" cy="324.3" r="2.4"/><circle cx="455.1" cy="323.9" r="2.4"/><circle cx="455.3" cy="324.1" r="2.4"/><circle cx="455.8" cy="324.2" r="2.4"/><circle cx="456.2" cy="324.2" r="2.4"/><circle cx="456.6" cy="324.6" r="2.4"/><circle cx="457.0" cy="325.3" r="2.4"/><circle cx="457.4" cy="324.6" r="2.4"/><circle cx="457.8" cy="324.4" r="2.4"/><circle cx="458.3" cy="324.8" r="2.4"/><circle cx="458.5" cy="324.6" r="2.4"/><circle cx="459.0" cy="324.7" r="2.4"/><circle cx="459.5" cy="324.5" r="2.4"/><circle cx="459.8" cy="325.1" r="2.4"/><circle cx="460.1" cy="325.2" r="2.4"/><circle cx="460.6" cy="325.5" r="2.4"/><circle cx="460.9" cy="325.5" r="2.4"/><circle cx="461.2" cy="324.9" r="2.4"/><circle cx="461.8" cy="326.0" r="2.4"/><circle cx="462.2" cy="325.3" r="2.4"/><circle cx="462.6" cy="324.7" r="2.4"/><circle cx="462.9" cy="326.0" r="2.4"/><circle cx="463.4" cy="325.4" r="2.4"/><circle cx="463.6" cy="326.5" r="2.4"/><circle cx="464.2" cy="325.6" r="2.4"/><circle cx="464.6" cy="326.5" r="2.4"/><circle cx="464.8" cy="326.6" r="2.4"/><circle cx="465.4" cy="325.3" r="2.4"/><circle cx="465.8" cy="325.5" r="2.4"/><circle cx="466.2" cy="326.6" r="2.4"/><circle cx="466.7" cy="326.2" r="2.4"/><circle cx="467.0" cy="327.0" r="2.4"/><circle cx="467.3" cy="326.3" r="2.4"/><circle cx="467.7" cy="326.7" r="2.4"/><circle cx="468.1" cy="327.0" r="2.4"/><circle cx="468.6" cy="326.9" r="2.4"/><circle cx="469.1" cy="326.8" r="2.4"/><circle cx="469.5" cy="326.8" r="2.4"/><circle cx="469.8" cy="326.3" r="2.4"/><circle cx="470.2" cy="327.2" r="2.4"/><circle cx="470.5" cy="327.0" r="2.4"/><circle cx="470.9" cy="327.1" r="2.4"/><circle cx="471.2" cy="327.2" r="2.4"/><circle cx="471.7" cy="327.3" r="2.4"/><circle cx="472.1" cy="327.5" r="2.4"/><circle cx="472.6" cy="327.5" r="2.4"/><circle cx="472.9" cy="328.3" r="2.4"/><circle cx="473.4" cy="328.2" r="2.4"/><circle cx="473.8" cy="327.7" r="2.4"/><circle cx="474.2" cy="328.4" r="2.4"/><circle cx="474.5" cy="328.0" r="2.4"/><circle cx="475.0" cy="328.2" r="2.4"/><circle cx="475.4" cy="328.6" r="2.4"/><circle cx="475.8" cy="328.5" r="2.4"/><circle cx="476.2" cy="328.6" r="2.4"/><circle cx="476.6" cy="327.9" r="2.4"/><circle cx="476.9" cy="328.2" r="2.4"/><circle cx="477.4" cy="329.1" r="2.4"/><circle cx="477.7" cy="328.7" r="2.4"/><circle cx="478.1" cy="328.3" r="2.4"/><circle cx="478.6" cy="329.0" r="2.4"/><circle cx="479.0" cy="329.3" r="2.4"/><circle cx="479.3" cy="329.2" r="2.4"/><circle cx="479.8" cy="328.9" r="2.4"/><circle cx="480.2" cy="328.8" r="2.4"/><circle cx="480.5" cy="328.9" r="2.4"/><circle cx="480.9" cy="330.3" r="2.4"/><circle cx="481.3" cy="329.9" r="2.4"/><circle cx="481.8" cy="329.4" r="2.4"/><circle cx="482.2" cy="329.0" r="2.4"/><circle cx="482.6" cy="329.6" r="2.4"/><circle cx="482.9" cy="329.7" r="2.4"/><circle cx="483.4" cy="329.7" r="2.4"/><circle cx="483.9" cy="329.4" r="2.4"/><circle cx="484.2" cy="329.9" r="2.4"/><circle cx="484.5" cy="330.2" r="2.4"/><circle cx="484.9" cy="329.2" r="2.4"/><circle cx="485.4" cy="329.4" r="2.4"/><circle cx="485.8" cy="329.2" r="2.4"/><circle cx="486.2" cy="329.5" r="2.4"/><circle cx="486.6" cy="329.4" r="2.4"/><circle cx="487.0" cy="329.9" r="2.4"/><circle cx="487.4" cy="330.1" r="2.4"/><circle cx="487.8" cy="329.6" r="2.4"/><circle cx="488.0" cy="330.2" r="2.4"/><circle cx="488.5" cy="330.1" r="2.4"/><circle cx="489.0" cy="329.5" r="2.4"/><circle cx="489.3" cy="330.1" r="2.4"/><circle cx="489.7" cy="330.6" r="2.4"/><circle cx="490.2" cy="330.2" r="2.4"/><circle cx="490.5" cy="330.9" r="2.4"/><circle cx="490.9" cy="330.9" r="2.4"/><circle cx="491.4" cy="329.9" r="2.4"/><circle cx="491.7" cy="330.7" r="2.4"/><circle cx="492.2" cy="331.1" r="2.4"/><circle cx="492.6" cy="331.3" r="2.4"/><circle cx="492.9" cy="330.8" r="2.4"/><circle cx="493.4" cy="330.8" r="2.4"/><circle cx="493.8" cy="330.4" r="2.4"/><circle cx="494.2" cy="331.0" r="2.4"/><circle cx="494.5" cy="331.5" r="2.4"/><circle cx="495.0" cy="331.2" r="2.4"/><circle cx="495.3" cy="331.1" r="2.4"/><circle cx="495.8" cy="331.0" r="2.4"/><circle cx="496.0" cy="331.0" r="2.4"/><circle cx="496.5" cy="331.3" r="2.4"/><circle cx="496.9" cy="331.1" r="2.4"/><circle cx="497.3" cy="331.9" r="2.4"/><circle cx="497.7" cy="332.3" r="2.4"/><circle cx="498.1" cy="331.1" r="2.4"/><circle cx="498.6" cy="331.8" r="2.4"/><circle cx="498.9" cy="331.9" r="2.4"/><circle cx="499.3" cy="331.3" r="2.4"/><circle cx="499.8" cy="331.6" r="2.4"/><circle cx="500.1" cy="332.0" r="2.4"/><circle cx="500.6" cy="331.8" r="2.4"/><circle cx="500.9" cy="331.7" r="2.4"/><circle cx="501.4" cy="332.2" r="2.4"/><circle cx="501.9" cy="331.9" r="2.4"/><circle cx="502.1" cy="332.0" r="2.4"/><circle cx="502.6" cy="331.7" r="2.4"/><circle cx="503.0" cy="331.0" r="2.4"/><circle cx="503.4" cy="331.9" r="2.4"/><circle cx="503.8" cy="332.5" r="2.4"/><circle cx="504.1" cy="332.2" r="2.4"/><circle cx="504.6" cy="332.5" r="2.4"/><circle cx="504.9" cy="331.9" r="2.4"/><circle cx="505.3" cy="333.4" r="2.4"/><circle cx="505.8" cy="332.3" r="2.4"/><circle cx="506.1" cy="332.8" r="2.4"/><circle cx="506.5" cy="333.1" r="2.4"/><circle cx="507.0" cy="332.5" r="2.4"/><circle cx="507.4" cy="332.2" r="2.4"/><circle cx="507.8" cy="332.4" r="2.4"/><circle cx="508.1" cy="332.7" r="2.4"/><circle cx="508.6" cy="333.2" r="2.4"/><circle cx="508.8" cy="332.5" r="2.4"/><circle cx="509.3" cy="332.6" r="2.4"/><circle cx="509.8" cy="332.9" r="2.4"/><circle cx="510.2" cy="332.6" r="2.4"/><circle cx="510.6" cy="333.0" r="2.4"/><circle cx="510.9" cy="332.8" r="2.4"/><circle cx="511.3" cy="332.5" r="2.4"/><circle cx="511.8" cy="333.0" r="2.4"/><circle cx="512.2" cy="332.6" r="2.4"/><circle cx="512.6" cy="332.7" r="2.4"/><circle cx="513.0" cy="333.3" r="2.4"/><circle cx="513.4" cy="333.6" r="2.4"/><circle cx="513.7" cy="332.9" r="2.4"/><circle cx="514.1" cy="333.3" r="2.4"/><circle cx="514.7" cy="333.4" r="2.4"/><circle cx="514.9" cy="332.7" r="2.4"/><circle cx="515.3" cy="333.4" r="2.4"/><circle cx="515.8" cy="333.4" r="2.4"/><circle cx="516.2" cy="333.0" r="2.4"/><circle cx="516.5" cy="334.1" r="2.4"/><circle cx="517.0" cy="333.1" r="2.4"/><circle cx="517.3" cy="332.8" r="2.4"/><circle cx="517.7" cy="333.4" r="2.4"/><circle cx="518.2" cy="333.8" r="2.4"/><circle cx="518.6" cy="333.2" r="2.4"/><circle cx="518.9" cy="334.2" r="2.4"/><circle cx="519.3" cy="333.6" r="2.4"/><circle cx="519.8" cy="333.8" r="2.4"/><circle cx="520.2" cy="333.8" r="2.4"/><circle cx="520.6" cy="333.6" r="2.4"/><circle cx="520.9" cy="333.6" r="2.4"/><circle cx="521.3" cy="333.6" r="2.4"/><circle cx="521.8" cy="333.8" r="2.4"/><circle cx="522.2" cy="334.2" r="2.4"/><circle cx="522.5" cy="334.0" r="2.4"/><circle cx="523.0" cy="334.1" r="2.4"/><circle cx="523.4" cy="333.9" r="2.4"/><circle cx="523.7" cy="333.5" r="2.4"/><circle cx="524.2" cy="334.4" r="2.4"/><circle cx="524.6" cy="334.1" r="2.4"/><circle cx="525.0" cy="333.7" r="2.4"/><circle cx="525.3" cy="334.2" r="2.4"/><circle cx="525.8" cy="333.8" r="2.4"/><circle cx="526.1" cy="334.5" r="2.4"/><circle cx="526.5" cy="334.7" r="2.4"/><circle cx="527.0" cy="334.9" r="2.4"/><circle cx="527.3" cy="334.1" r="2.4"/><circle cx="527.7" cy="334.2" r="2.4"/><circle cx="528.2" cy="333.8" r="2.4"/><circle cx="528.6" cy="333.9" r="2.4"/><circle cx="528.9" cy="334.4" r="2.4"/><circle cx="529.3" cy="334.0" r="2.4"/><circle cx="529.8" cy="334.1" r="2.4"/><circle cx="530.1" cy="334.2" r="2.4"/><circle cx="530.6" cy="334.9" r="2.4"/><circle cx="530.9" cy="334.7" r="2.4"/><circle cx="531.3" cy="334.2" r="2.4"/><circle cx="531.8" cy="334.5" r="2.4"/><circle cx="532.2" cy="335.0" r="2.4"/><circle cx="532.5" cy="334.9" r="2.4"/><circle cx="533.0" cy="334.7" r="2.4"/><circle cx="533.3" cy="334.8" r="2.4"/><circle cx="533.8" cy="334.6" r="2.4"/><circle cx="534.2" cy="334.7" r="2.4"/><circle cx="534.6" cy="334.9" r="2.4"/><circle cx="535.0" cy="334.9" r="2.4"/><circle cx="535.4" cy="334.2" r="2.4"/><circle cx="535.8" cy="334.1" r="2.4"/><circle cx="536.2" cy="334.8" r="2.4"/><circle cx="536.6" cy="334.7" r="2.4"/><circle cx="537.0" cy="334.4" r="2.4"/><circle cx="537.3" cy="335.0" r="2.4"/><circle cx="537.8" cy="334.4" r="2.4"/><circle cx="538.2" cy="334.4" r="2.4"/><circle cx="538.6" cy="334.6" r="2.4"/><circle cx="539.0" cy="335.3" r="2.4"/><circle cx="539.4" cy="334.2" r="2.4"/><circle cx="539.8" cy="334.8" r="2.4"/><circle cx="540.2" cy="335.0" r="2.4"/><circle cx="540.6" cy="335.2" r="2.4"/><circle cx="541.0" cy="335.0" r="2.4"/><circle cx="541.4" cy="334.7" r="2.4"/><circle cx="541.8" cy="334.5" r="2.4"/><circle cx="542.2" cy="334.7" r="2.4"/><circle cx="542.5" cy="335.2" r="2.4"/><circle cx="543.0" cy="335.0" r="2.4"/><circle cx="543.4" cy="334.5" r="2.4"/><circle cx="543.8" cy="335.1" r="2.4"/><circle cx="544.2" cy="334.7" r="2.4"/><circle cx="544.6" cy="335.2" r="2.4"/><circle cx="545.0" cy="335.5" r="2.4"/><circle cx="545.4" cy="335.9" r="2.4"/><circle cx="545.8" cy="335.0" r="2.4"/><circle cx="546.2" cy="334.8" r="2.4"/><circle cx="546.6" cy="334.5" r="2.4"/><circle cx="547.0" cy="335.3" r="2.4"/><circle cx="547.4" cy="335.1" r="2.4"/><circle cx="547.8" cy="335.0" r="2.4"/><circle cx="548.2" cy="334.6" r="2.4"/><circle cx="548.5" cy="335.0" r="2.4"/><circle cx="549.0" cy="335.5" r="2.4"/><circle cx="549.3" cy="335.5" r="2.4"/><circle cx="549.8" cy="335.2" r="2.4"/><circle cx="550.2" cy="335.2" r="2.4"/><circle cx="550.5" cy="334.7" r="2.4"/><circle cx="551.0" cy="335.8" r="2.4"/><circle cx="551.4" cy="335.3" r="2.4"/><circle cx="551.7" cy="335.3" r="2.4"/><circle cx="552.2" cy="335.6" r="2.4"/><circle cx="552.5" cy="335.6" r="2.4"/><circle cx="553.0" cy="335.7" r="2.4"/><circle cx="553.4" cy="335.0" r="2.4"/><circle cx="553.8" cy="335.8" r="2.4"/><circle cx="554.1" cy="335.5" r="2.4"/><circle cx="554.6" cy="335.4" r="2.4"/><circle cx="554.9" cy="336.3" r="2.4"/><circle cx="555.4" cy="335.9" r="2.4"/><circle cx="555.7" cy="336.2" r="2.4"/><circle cx="556.1" cy="335.4" r="2.4"/><circle cx="556.6" cy="336.1" r="2.4"/><circle cx="556.9" cy="335.4" r="2.4"/><circle cx="557.4" cy="335.0" r="2.4"/><circle cx="557.8" cy="335.9" r="2.4"/><circle cx="558.2" cy="335.9" r="2.4"/><circle cx="558.6" cy="335.8" r="2.4"/><circle cx="559.0" cy="336.3" r="2.4"/><circle cx="559.4" cy="335.8" r="2.4"/><circle cx="559.8" cy="336.2" r="2.4"/><circle cx="560.2" cy="336.0" r="2.4"/><circle cx="560.6" cy="335.9" r="2.4"/><circle cx="561.0" cy="335.8" r="2.4"/><circle cx="561.4" cy="336.2" r="2.4"/><circle cx="561.8" cy="335.8" r="2.4"/><circle cx="562.2" cy="336.2" r="2.4"/><circle cx="562.5" cy="336.0" r="2.4"/><circle cx="563.0" cy="336.0" r="2.4"/><circle cx="563.4" cy="335.7" r="2.4"/><circle cx="563.7" cy="335.4" r="2.4"/><circle cx="564.2" cy="335.8" r="2.4"/><circle cx="564.6" cy="336.2" r="2.4"/><circle cx="565.0" cy="336.2" r="2.4"/><circle cx="565.4" cy="335.8" r="2.4"/><circle cx="565.8" cy="336.6" r="2.4"/><circle cx="566.2" cy="335.5" r="2.4"/><circle cx="566.6" cy="336.7" r="2.4"/><circle cx="567.0" cy="335.7" r="2.4"/><circle cx="567.4" cy="336.4" r="2.4"/><circle cx="567.8" cy="335.9" r="2.4"/><circle cx="568.1" cy="336.6" r="2.4"/><circle cx="568.5" cy="336.8" r="2.4"/><circle cx="569.0" cy="336.4" r="2.4"/><circle cx="569.3" cy="336.1" r="2.4"/><circle cx="569.8" cy="335.8" r="2.4"/><circle cx="570.2" cy="335.9" r="2.4"/><circle cx="570.5" cy="336.4" r="2.4"/><circle cx="571.0" cy="336.7" r="2.4"/><circle cx="571.4" cy="336.4" r="2.4"/><circle cx="571.8" cy="336.2" r="2.4"/><circle cx="572.1" cy="336.8" r="2.4"/><circle cx="572.6" cy="336.5" r="2.4"/><circle cx="573.0" cy="336.6" r="2.4"/><circle cx="573.4" cy="336.5" r="2.4"/><circle cx="573.8" cy="336.0" r="2.4"/><circle cx="574.2" cy="336.2" r="2.4"/><circle cx="574.6" cy="337.1" r="2.4"/><circle cx="574.9" cy="336.6" r="2.4"/><circle cx="575.4" cy="337.0" r="2.4"/><circle cx="575.7" cy="336.1" r="2.4"/><circle cx="576.2" cy="336.6" r="2.4"/><circle cx="576.6" cy="337.1" r="2.4"/><circle cx="576.9" cy="336.6" r="2.4"/><circle cx="577.4" cy="336.9" r="2.4"/><circle cx="577.8" cy="337.1" r="2.4"/><circle cx="578.2" cy="336.7" r="2.4"/><circle cx="578.6" cy="336.1" r="2.4"/><circle cx="579.0" cy="336.7" r="2.4"/><circle cx="579.4" cy="336.7" r="2.4"/><circle cx="579.8" cy="336.5" r="2.4"/><circle cx="580.2" cy="337.3" r="2.4"/><circle cx="580.6" cy="336.8" r="2.4"/><circle cx="581.0" cy="336.7" r="2.4"/><circle cx="581.3" cy="337.6" r="2.4"/><circle cx="581.8" cy="337.0" r="2.4"/><circle cx="582.2" cy="336.7" r="2.4"/><circle cx="582.6" cy="337.3" r="2.4"/><circle cx="582.9" cy="337.4" r="2.4"/><circle cx="583.3" cy="337.3" r="2.4"/><circle cx="583.7" cy="337.0" r="2.4"/><circle cx="584.2" cy="337.3" r="2.4"/><circle cx="584.6" cy="336.9" r="2.4"/><circle cx="585.0" cy="337.6" r="2.4"/><circle cx="585.4" cy="337.4" r="2.4"/><circle cx="585.7" cy="337.2" r="2.4"/><circle cx="586.1" cy="337.3" r="2.4"/><circle cx="586.6" cy="337.7" r="2.4"/><circle cx="587.0" cy="337.6" r="2.4"/><circle cx="587.4" cy="337.2" r="2.4"/><circle cx="587.8" cy="337.4" r="2.4"/><circle cx="588.1" cy="337.6" r="2.4"/><circle cx="588.5" cy="337.2" r="2.4"/><circle cx="589.0" cy="337.2" r="2.4"/><circle cx="589.4" cy="337.4" r="2.4"/><circle cx="589.8" cy="337.8" r="2.4"/><circle cx="590.2" cy="337.6" r="2.4"/><circle cx="590.6" cy="337.4" r="2.4"/><circle cx="591.0" cy="337.3" r="2.4"/><circle cx="591.4" cy="337.4" r="2.4"/><circle cx="591.8" cy="337.9" r="2.4"/><circle cx="592.2" cy="337.6" r="2.4"/><circle cx="592.6" cy="337.9" r="2.4"/><circle cx="593.0" cy="337.3" r="2.4"/><circle cx="593.4" cy="337.3" r="2.4"/><circle cx="593.8" cy="337.3" r="2.4"/><circle cx="594.2" cy="337.3" r="2.4"/><circle cx="594.6" cy="338.2" r="2.4"/><circle cx="594.9" cy="338.2" r="2.4"/><circle cx="595.3" cy="337.2" r="2.4"/><circle cx="595.8" cy="338.0" r="2.4"/><circle cx="596.2" cy="337.0" r="2.4"/><circle cx="596.6" cy="337.7" r="2.4"/><circle cx="597.0" cy="337.7" r="2.4"/><circle cx="597.3" cy="337.7" r="2.4"/><circle cx="597.8" cy="338.4" r="2.4"/><circle cx="598.2" cy="337.7" r="2.4"/><circle cx="598.6" cy="338.3" r="2.4"/><circle cx="599.0" cy="337.6" r="2.4"/><circle cx="599.4" cy="338.0" r="2.4"/><circle cx="599.8" cy="338.4" r="2.4"/><circle cx="600.2" cy="338.4" r="2.4"/><circle cx="600.6" cy="338.5" r="2.4"/><circle cx="601.0" cy="338.2" r="2.4"/><circle cx="601.4" cy="337.8" r="2.4"/><circle cx="601.8" cy="337.5" r="2.4"/><circle cx="602.2" cy="338.1" r="2.4"/><circle cx="602.6" cy="338.3" r="2.4"/><circle cx="602.9" cy="338.1" r="2.4"/><circle cx="603.4" cy="338.1" r="2.4"/><circle cx="603.8" cy="338.8" r="2.4"/><circle cx="604.2" cy="337.9" r="2.4"/><circle cx="604.6" cy="338.2" r="2.4"/><circle cx="605.0" cy="337.9" r="2.4"/><circle cx="605.4" cy="337.9" r="2.4"/><circle cx="605.8" cy="338.4" r="2.4"/><circle cx="606.2" cy="339.0" r="2.4"/><circle cx="606.6" cy="338.3" r="2.4"/><circle cx="607.0" cy="338.6" r="2.4"/><circle cx="607.3" cy="338.4" r="2.4"/><circle cx="607.8" cy="338.6" r="2.4"/><circle cx="608.2" cy="338.4" r="2.4"/><circle cx="608.6" cy="338.5" r="2.4"/><circle cx="608.9" cy="338.7" r="2.4"/><circle cx="609.4" cy="338.5" r="2.4"/><circle cx="609.8" cy="338.2" r="2.4"/><circle cx="610.2" cy="338.9" r="2.4"/><circle cx="610.6" cy="338.9" r="2.4"/><circle cx="610.9" cy="338.4" r="2.4"/><circle cx="611.4" cy="338.5" r="2.4"/><circle cx="611.7" cy="338.3" r="2.4"/><circle cx="612.2" cy="338.1" r="2.4"/><circle cx="612.5" cy="338.2" r="2.4"/><circle cx="613.0" cy="338.8" r="2.4"/><circle cx="613.4" cy="338.0" r="2.4"/><circle cx="613.8" cy="338.4" r="2.4"/><circle cx="614.2" cy="339.2" r="2.4"/><circle cx="614.6" cy="338.3" r="2.4"/><circle cx="615.0" cy="338.5" r="2.4"/><circle cx="615.3" cy="338.6" r="2.4"/><circle cx="615.8" cy="338.8" r="2.4"/><circle cx="616.1" cy="339.6" r="2.4"/><circle cx="616.5" cy="338.8" r="2.4"/><circle cx="617.0" cy="339.0" r="2.4"/><circle cx="617.4" cy="338.9" r="2.4"/><circle cx="617.8" cy="338.8" r="2.4"/><circle cx="618.1" cy="338.9" r="2.4"/><circle cx="618.6" cy="338.7" r="2.4"/><circle cx="619.0" cy="338.9" r="2.4"/><circle cx="619.4" cy="339.1" r="2.4"/><circle cx="619.8" cy="338.4" r="2.4"/><circle cx="620.2" cy="338.7" r="2.4"/><circle cx="620.6" cy="338.7" r="2.4"/><circle cx="621.0" cy="339.0" r="2.4"/><circle cx="621.3" cy="338.4" r="2.4"/><circle cx="621.7" cy="339.4" r="2.4"/><circle cx="622.1" cy="339.2" r="2.4"/><circle cx="622.6" cy="339.1" r="2.4"/><circle cx="623.0" cy="338.8" r="2.4"/><circle cx="623.4" cy="339.0" r="2.4"/><circle cx="623.8" cy="339.2" r="2.4"/><circle cx="624.2" cy="338.8" r="2.4"/><circle cx="624.6" cy="339.1" r="2.4"/><circle cx="624.9" cy="338.6" r="2.4"/><circle cx="625.4" cy="338.8" r="2.4"/><circle cx="625.8" cy="338.2" r="2.4"/><circle cx="626.2" cy="339.0" r="2.4"/><circle cx="626.6" cy="338.4" r="2.4"/><circle cx="627.0" cy="339.2" r="2.4"/><circle cx="627.4" cy="339.5" r="2.4"/><circle cx="627.8" cy="338.8" r="2.4"/>
</g>
<circle cx="628.1" cy="338.9" r="2.4" style="fill-opacity:1;stroke:#222"/>
</g>
<circle cx="452.3" cy="68.5" r="2.3" fill="#fff" stroke="#555" stroke-width="1"/>
<text class="t" x="463.2" y="73.8" textLength="123" lengthAdjust="spacingAndGlyphs">EV-manufacturer 2</text>
<path d="M443.3 91H461.6" stroke="#0a0a0a" stroke-width="2.4" fill="none"/>
<text class="t" x="463.2" y="95.9" textLength="126" lengthAdjust="spacingAndGlyphs">ICE-manufacturer 2</text>
<g opacity=".78">
<circle cx="545.3" cy="374.8" r="13.4" fill="none" stroke="#b5b5b5" stroke-width="4.2"/>
<circle cx="545.3" cy="374.8" r="13.4" fill="none" stroke="#fff" stroke-width="2.8"/>
<path d="M532 371.5H558M538 371.5V385M545.3 371.5V387M552.5 371.5V385M536 364.5H554" fill="none" stroke="#b5b5b5" stroke-width="3.4"/>
<path d="M532 371.5H558M538 371.5V385M545.3 371.5V387M552.5 371.5V385M536 364.5H554" fill="none" stroke="#fff" stroke-width="2"/>
<text x="562" y="372.8" textLength="68" lengthAdjust="spacingAndGlyphs" style="font-size:13.6px;font-weight:500;fill:#fff;stroke:#b4b4b4;stroke-width:1.1;paint-order:stroke">中国节能网</text>
<text x="563.5" y="386.3" textLength="66" lengthAdjust="spacing" style="font-size:12.6px;font-weight:bold;fill:#fff;stroke:#b4b4b4;stroke-width:1.1;paint-order:stroke">CES.CN</text>
</g>
<text class="t" x="630.6" y="408.8">80</text>
</svg></body></html>
